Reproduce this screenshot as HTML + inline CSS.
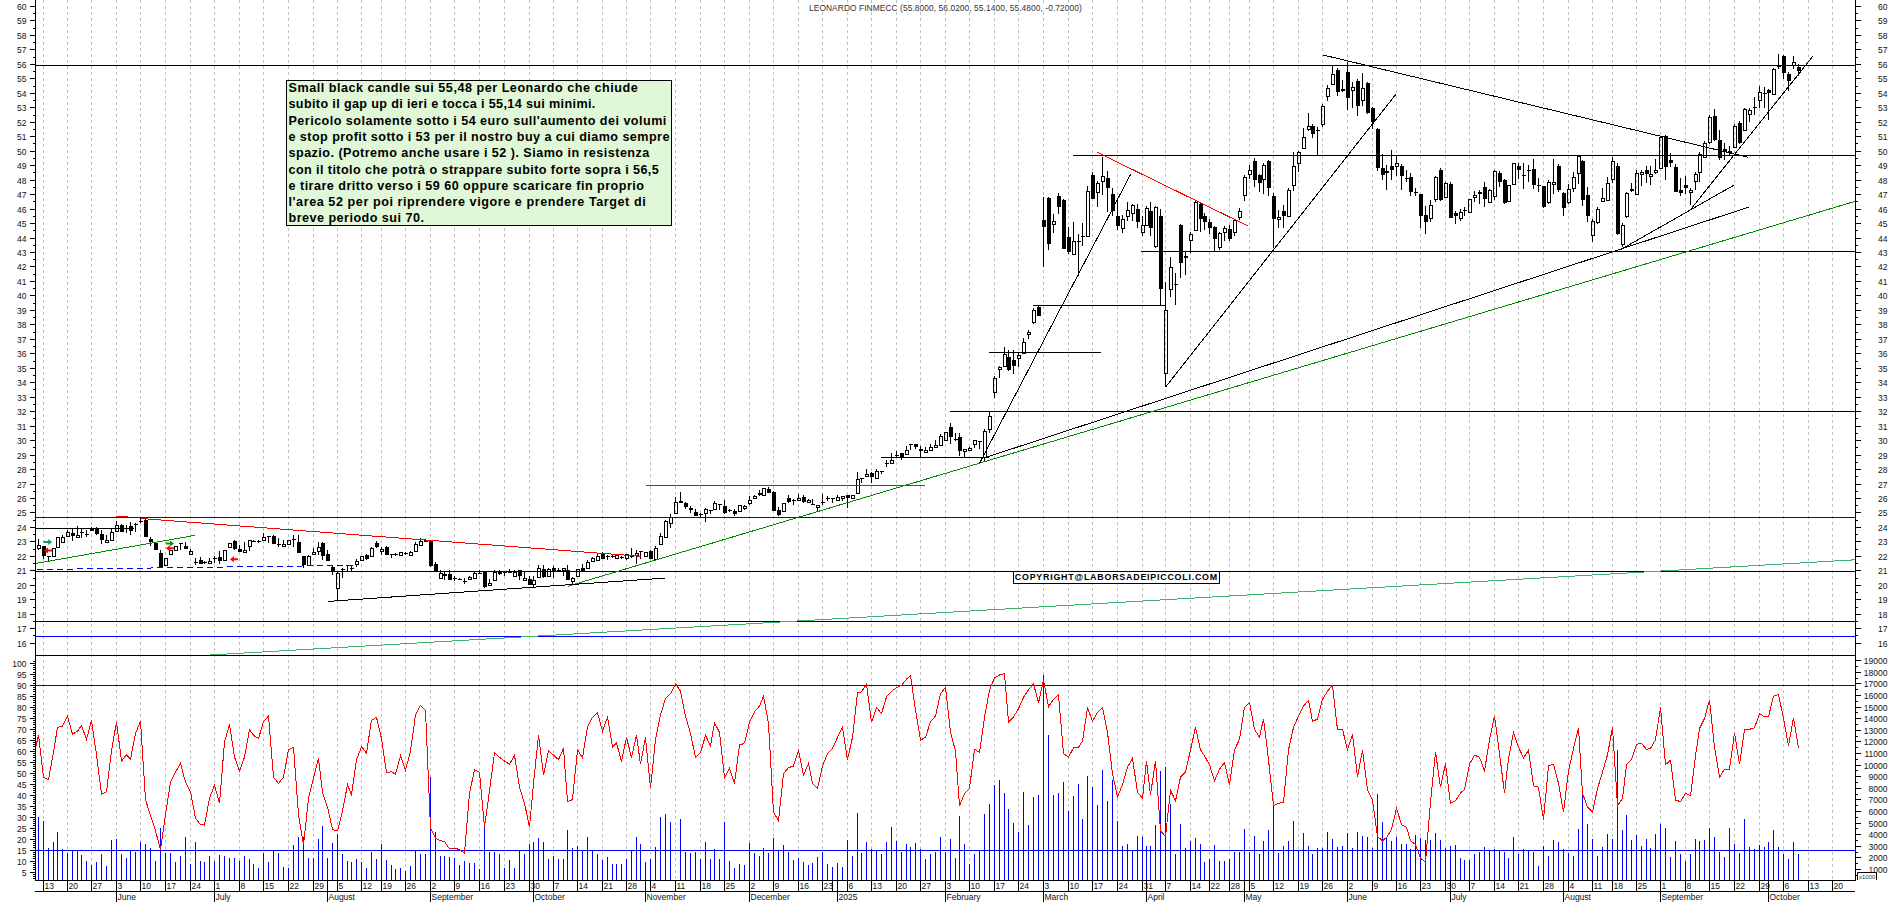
<!DOCTYPE html>
<html><head><meta charset="utf-8"><title>Leonardo Finmeccanica</title>
<style>html,body{margin:0;padding:0;background:#fff;}svg{display:block;}</style></head>
<body><svg width="1890" height="902" viewBox="0 0 1890 902"><path d="M43.5 0V880 M67.5 0V880 M91.5 0V880 M116.5 0V880 M140.5 0V880 M165.5 0V880 M190.5 0V880 M214.5 0V880 M239.5 0V880 M263.5 0V880 M288.5 0V880 M313.5 0V880 M337.5 0V880 M361.5 0V880 M381.5 0V880 M405.5 0V880 M430.5 0V880 M454.5 0V880 M479.5 0V880 M504.5 0V880 M529.5 0V880 M553.5 0V880 M577.5 0V880 M602.5 0V880 M626.5 0V880 M650.5 0V880 M675.5 0V880 M700.5 0V880 M724.5 0V880 M749.5 0V880 M773.5 0V880 M798.5 0V880 M822.5 0V880 M847.5 0V880 M871.5 0V880 M896.5 0V880 M920.5 0V880 M945.5 0V880 M969.5 0V880 M994.5 0V880 M1018.5 0V880 M1043.5 0V880 M1068.5 0V880 M1092.5 0V880 M1117.5 0V880 M1142.5 0V880 M1165.5 0V880 M1190.5 0V880 M1209.5 0V880 M1229.5 0V880 M1249.5 0V880 M1273.5 0V880 M1298.5 0V880 M1322.5 0V880 M1347.5 0V880 M1372.5 0V880 M1396.5 0V880 M1420.5 0V880 M1445.5 0V880 M1469.5 0V880 M1494.5 0V880 M1518.5 0V880 M1543.5 0V880 M1568.5 0V880 M1592.5 0V880 M1612.5 0V880 M1636.5 0V880 M1660.5 0V880 M1685.5 0V880 M1709.5 0V880 M1734.5 0V880 M1759.5 0V880 M1783.5 0V880 M1808.5 0V880 M1832.5 0V880" stroke="#c0c0c0" stroke-width="1" stroke-dasharray="3 3" fill="none"/>
<g shape-rendering="crispEdges">
<rect x="38" y="539" width="1" height="6" fill="#000"/>
<rect x="38" y="549" width="1" height="1" fill="#000"/>
<rect x="37.5" y="545.5" width="3" height="3" fill="none" stroke="#000" stroke-width="1"/>
<rect x="43" y="546" width="1" height="13" fill="#000"/>
<rect x="42" y="546" width="4" height="10" fill="#000"/>
<rect x="48" y="556" width="1" height="5" fill="#000"/>
<rect x="47" y="556" width="4" height="1" fill="#000"/>
<rect x="52.5" y="548.5" width="3" height="8" fill="none" stroke="#000" stroke-width="1"/>
<rect x="56.5" y="537.5" width="3" height="10" fill="none" stroke="#000" stroke-width="1"/>
<rect x="62" y="535" width="1" height="2" fill="#000"/>
<rect x="61.5" y="537.5" width="3" height="5" fill="none" stroke="#000" stroke-width="1"/>
<rect x="67" y="530" width="1" height="2" fill="#000"/>
<rect x="66.5" y="532.5" width="3" height="4" fill="none" stroke="#000" stroke-width="1"/>
<rect x="72" y="529" width="1" height="12" fill="#000"/>
<rect x="71" y="533" width="4" height="3" fill="#000"/>
<rect x="77" y="526" width="1" height="9" fill="#000"/>
<rect x="76.5" y="535.5" width="3" height="2" fill="none" stroke="#000" stroke-width="1"/>
<rect x="81" y="529" width="1" height="9" fill="#000"/>
<rect x="80" y="532" width="4" height="1" fill="#000"/>
<rect x="86" y="530" width="1" height="7" fill="#000"/>
<rect x="85" y="534" width="4" height="1" fill="#000"/>
<rect x="91" y="527" width="1" height="4" fill="#000"/>
<rect x="90" y="528" width="4" height="3" fill="#000"/>
<rect x="96" y="527" width="1" height="8" fill="#000"/>
<rect x="95" y="528" width="4" height="6" fill="#000"/>
<rect x="101" y="530" width="1" height="14" fill="#000"/>
<rect x="100" y="534" width="4" height="6" fill="#000"/>
<rect x="106" y="535" width="1" height="5" fill="#000"/>
<rect x="105.5" y="540.5" width="3" height="2" fill="none" stroke="#000" stroke-width="1"/>
<rect x="111" y="528" width="1" height="4" fill="#000"/>
<rect x="110.5" y="532.5" width="3" height="8" fill="none" stroke="#000" stroke-width="1"/>
<rect x="116" y="521" width="1" height="4" fill="#000"/>
<rect x="115.5" y="525.5" width="3" height="6" fill="none" stroke="#000" stroke-width="1"/>
<rect x="121" y="524" width="1" height="8" fill="#000"/>
<rect x="120" y="525" width="4" height="7" fill="#000"/>
<rect x="126" y="525" width="1" height="8" fill="#000"/>
<rect x="125" y="528" width="4" height="1" fill="#000"/>
<rect x="130" y="522" width="1" height="13" fill="#000"/>
<rect x="129" y="526" width="4" height="5" fill="#000"/>
<rect x="135" y="523" width="1" height="9" fill="#000"/>
<rect x="134" y="524" width="4" height="1" fill="#000"/>
<rect x="140" y="518" width="1" height="5" fill="#000"/>
<rect x="139" y="521" width="4" height="1" fill="#000"/>
<rect x="145" y="519" width="1" height="18" fill="#000"/>
<rect x="144" y="520" width="4" height="17" fill="#000"/>
<rect x="150" y="537" width="1" height="9" fill="#000"/>
<rect x="149" y="539" width="4" height="3" fill="#000"/>
<rect x="155" y="542" width="1" height="8" fill="#000"/>
<rect x="154" y="543" width="4" height="7" fill="#000"/>
<rect x="160" y="550" width="1" height="17" fill="#000"/>
<rect x="159" y="553" width="4" height="14" fill="#000"/>
<rect x="164.5" y="558.5" width="3" height="7" fill="none" stroke="#000" stroke-width="1"/>
<rect x="169.5" y="550.5" width="3" height="4" fill="none" stroke="#000" stroke-width="1"/>
<rect x="174.5" y="546.5" width="3" height="4" fill="none" stroke="#000" stroke-width="1"/>
<rect x="180" y="543" width="1" height="7" fill="#000"/>
<rect x="179" y="543" width="4" height="1" fill="#000"/>
<rect x="185" y="542" width="1" height="7" fill="#000"/>
<rect x="184" y="546" width="4" height="3" fill="#000"/>
<rect x="190" y="549" width="1" height="2" fill="#000"/>
<rect x="189.5" y="551.5" width="3" height="3" fill="none" stroke="#000" stroke-width="1"/>
<rect x="195" y="558" width="1" height="7" fill="#000"/>
<rect x="194" y="562" width="4" height="1" fill="#000"/>
<rect x="200" y="557" width="1" height="7" fill="#000"/>
<rect x="199" y="560" width="4" height="4" fill="#000"/>
<rect x="204" y="561" width="1" height="3" fill="#000"/>
<rect x="203" y="562" width="4" height="1" fill="#000"/>
<rect x="209" y="558" width="1" height="3" fill="#000"/>
<rect x="208.5" y="561.5" width="3" height="2" fill="none" stroke="#000" stroke-width="1"/>
<rect x="214" y="556" width="1" height="7" fill="#000"/>
<rect x="213" y="558" width="4" height="1" fill="#000"/>
<rect x="219" y="551" width="1" height="13" fill="#000"/>
<rect x="218" y="557" width="4" height="4" fill="#000"/>
<rect x="223.5" y="550.5" width="3" height="10" fill="none" stroke="#000" stroke-width="1"/>
<rect x="228.5" y="543.5" width="3" height="4" fill="none" stroke="#000" stroke-width="1"/>
<rect x="234" y="540" width="1" height="10" fill="#000"/>
<rect x="233" y="541" width="4" height="8" fill="#000"/>
<rect x="239" y="545" width="1" height="7" fill="#000"/>
<rect x="238" y="549" width="4" height="3" fill="#000"/>
<rect x="244" y="542" width="1" height="8" fill="#000"/>
<rect x="243.5" y="550.5" width="3" height="2" fill="none" stroke="#000" stroke-width="1"/>
<rect x="249" y="547" width="1" height="4" fill="#000"/>
<rect x="248.5" y="540.5" width="3" height="6" fill="none" stroke="#000" stroke-width="1"/>
<rect x="253" y="540" width="1" height="2" fill="#000"/>
<rect x="252" y="541" width="4" height="1" fill="#000"/>
<rect x="258" y="540" width="1" height="3" fill="#000"/>
<rect x="257" y="541" width="4" height="1" fill="#000"/>
<rect x="263" y="533" width="1" height="4" fill="#000"/>
<rect x="262.5" y="537.5" width="3" height="3" fill="none" stroke="#000" stroke-width="1"/>
<rect x="268" y="536" width="1" height="7" fill="#000"/>
<rect x="267" y="536" width="4" height="1" fill="#000"/>
<rect x="273" y="535" width="1" height="9" fill="#000"/>
<rect x="272" y="536" width="4" height="8" fill="#000"/>
<rect x="278" y="538" width="1" height="9" fill="#000"/>
<rect x="277" y="544" width="4" height="1" fill="#000"/>
<rect x="283" y="540" width="1" height="4" fill="#000"/>
<rect x="282.5" y="544.5" width="3" height="2" fill="none" stroke="#000" stroke-width="1"/>
<rect x="287.5" y="540.5" width="3" height="4" fill="none" stroke="#000" stroke-width="1"/>
<rect x="293" y="535" width="1" height="12" fill="#000"/>
<rect x="292" y="539" width="4" height="1" fill="#000"/>
<rect x="298" y="535" width="1" height="18" fill="#000"/>
<rect x="297" y="542" width="4" height="11" fill="#000"/>
<rect x="303" y="556" width="1" height="12" fill="#000"/>
<rect x="302" y="556" width="4" height="9" fill="#000"/>
<rect x="308" y="555" width="1" height="1" fill="#000"/>
<rect x="307.5" y="556.5" width="3" height="9" fill="none" stroke="#000" stroke-width="1"/>
<rect x="313" y="548" width="1" height="4" fill="#000"/>
<rect x="312.5" y="552.5" width="3" height="2" fill="none" stroke="#000" stroke-width="1"/>
<rect x="318" y="542" width="1" height="5" fill="#000"/>
<rect x="318" y="552" width="1" height="3" fill="#000"/>
<rect x="317.5" y="547.5" width="3" height="4" fill="none" stroke="#000" stroke-width="1"/>
<rect x="322" y="542" width="1" height="18" fill="#000"/>
<rect x="321" y="543" width="4" height="13" fill="#000"/>
<rect x="327" y="550" width="1" height="11" fill="#000"/>
<rect x="326" y="554" width="4" height="7" fill="#000"/>
<rect x="332" y="566" width="1" height="9" fill="#000"/>
<rect x="331" y="567" width="4" height="5" fill="#000"/>
<rect x="337" y="572" width="1" height="1" fill="#000"/>
<rect x="337" y="589" width="1" height="11" fill="#000"/>
<rect x="336.5" y="573.5" width="3" height="15" fill="none" stroke="#000" stroke-width="1"/>
<rect x="342" y="568" width="1" height="10" fill="#000"/>
<rect x="341" y="569" width="4" height="1" fill="#000"/>
<rect x="347" y="565" width="1" height="6" fill="#000"/>
<rect x="346" y="565" width="4" height="1" fill="#000"/>
<rect x="351" y="566" width="1" height="6" fill="#000"/>
<rect x="350" y="568" width="4" height="1" fill="#000"/>
<rect x="356" y="559" width="1" height="2" fill="#000"/>
<rect x="356" y="565" width="1" height="2" fill="#000"/>
<rect x="355.5" y="561.5" width="3" height="3" fill="none" stroke="#000" stroke-width="1"/>
<rect x="360.5" y="556.5" width="3" height="4" fill="none" stroke="#000" stroke-width="1"/>
<rect x="366" y="554" width="1" height="6" fill="#000"/>
<rect x="365" y="555" width="4" height="4" fill="#000"/>
<rect x="371" y="547" width="1" height="1" fill="#000"/>
<rect x="370.5" y="548.5" width="3" height="8" fill="none" stroke="#000" stroke-width="1"/>
<rect x="376" y="541" width="1" height="7" fill="#000"/>
<rect x="375" y="543" width="4" height="4" fill="#000"/>
<rect x="381" y="547" width="1" height="2" fill="#000"/>
<rect x="381" y="552" width="1" height="3" fill="#000"/>
<rect x="380.5" y="549.5" width="3" height="2" fill="none" stroke="#000" stroke-width="1"/>
<rect x="386" y="546" width="1" height="9" fill="#000"/>
<rect x="385" y="547" width="4" height="8" fill="#000"/>
<rect x="391" y="554" width="1" height="4" fill="#000"/>
<rect x="390" y="554" width="4" height="1" fill="#000"/>
<rect x="395" y="553" width="1" height="3" fill="#000"/>
<rect x="394" y="554" width="4" height="1" fill="#000"/>
<rect x="399.5" y="552.5" width="3" height="3" fill="none" stroke="#000" stroke-width="1"/>
<rect x="405" y="552" width="1" height="3" fill="#000"/>
<rect x="404" y="553" width="4" height="1" fill="#000"/>
<rect x="410" y="551" width="1" height="1" fill="#000"/>
<rect x="409.5" y="552.5" width="3" height="3" fill="none" stroke="#000" stroke-width="1"/>
<rect x="415" y="542" width="1" height="2" fill="#000"/>
<rect x="414.5" y="544.5" width="3" height="7" fill="none" stroke="#000" stroke-width="1"/>
<rect x="420" y="538" width="1" height="3" fill="#000"/>
<rect x="419.5" y="541.5" width="3" height="4" fill="none" stroke="#000" stroke-width="1"/>
<rect x="425" y="539" width="1" height="3" fill="#000"/>
<rect x="424" y="540" width="4" height="2" fill="#000"/>
<rect x="430" y="540" width="1" height="27" fill="#000"/>
<rect x="429" y="541" width="4" height="25" fill="#000"/>
<rect x="435" y="562" width="1" height="9" fill="#000"/>
<rect x="434" y="564" width="4" height="7" fill="#000"/>
<rect x="440" y="570" width="1" height="3" fill="#000"/>
<rect x="439.5" y="573.5" width="3" height="5" fill="none" stroke="#000" stroke-width="1"/>
<rect x="444" y="572" width="1" height="8" fill="#000"/>
<rect x="443" y="574" width="4" height="2" fill="#000"/>
<rect x="449" y="570" width="1" height="10" fill="#000"/>
<rect x="448" y="574" width="4" height="6" fill="#000"/>
<rect x="454" y="576" width="1" height="5" fill="#000"/>
<rect x="453" y="578" width="4" height="1" fill="#000"/>
<rect x="459" y="578" width="1" height="2" fill="#000"/>
<rect x="458" y="579" width="4" height="1" fill="#000"/>
<rect x="464" y="578" width="1" height="6" fill="#000"/>
<rect x="463" y="581" width="4" height="1" fill="#000"/>
<rect x="469" y="576" width="1" height="1" fill="#000"/>
<rect x="468.5" y="577.5" width="3" height="2" fill="none" stroke="#000" stroke-width="1"/>
<rect x="474" y="572" width="1" height="1" fill="#000"/>
<rect x="473.5" y="573.5" width="3" height="5" fill="none" stroke="#000" stroke-width="1"/>
<rect x="479" y="570" width="1" height="4" fill="#000"/>
<rect x="478" y="573" width="4" height="1" fill="#000"/>
<rect x="484" y="571" width="1" height="17" fill="#000"/>
<rect x="483" y="572" width="4" height="15" fill="#000"/>
<rect x="489" y="579" width="1" height="4" fill="#000"/>
<rect x="488.5" y="583.5" width="3" height="2" fill="none" stroke="#000" stroke-width="1"/>
<rect x="494" y="570" width="1" height="2" fill="#000"/>
<rect x="493.5" y="572.5" width="3" height="8" fill="none" stroke="#000" stroke-width="1"/>
<rect x="499" y="570" width="1" height="5" fill="#000"/>
<rect x="498" y="572" width="4" height="2" fill="#000"/>
<rect x="504" y="572" width="1" height="4" fill="#000"/>
<rect x="503" y="572" width="4" height="1" fill="#000"/>
<rect x="509" y="569" width="1" height="4" fill="#000"/>
<rect x="508" y="571" width="4" height="2" fill="#000"/>
<rect x="514" y="570" width="1" height="2" fill="#000"/>
<rect x="513.5" y="572.5" width="3" height="4" fill="none" stroke="#000" stroke-width="1"/>
<rect x="519" y="570" width="1" height="10" fill="#000"/>
<rect x="518" y="570" width="4" height="6" fill="#000"/>
<rect x="524" y="572" width="1" height="6" fill="#000"/>
<rect x="523.5" y="578.5" width="3" height="2" fill="none" stroke="#000" stroke-width="1"/>
<rect x="529" y="576" width="1" height="9" fill="#000"/>
<rect x="528" y="579" width="4" height="6" fill="#000"/>
<rect x="533" y="576" width="1" height="4" fill="#000"/>
<rect x="533" y="585" width="1" height="2" fill="#000"/>
<rect x="532.5" y="580.5" width="3" height="4" fill="none" stroke="#000" stroke-width="1"/>
<rect x="538" y="565" width="1" height="3" fill="#000"/>
<rect x="537.5" y="568.5" width="3" height="9" fill="none" stroke="#000" stroke-width="1"/>
<rect x="543" y="565" width="1" height="13" fill="#000"/>
<rect x="542" y="569" width="4" height="8" fill="#000"/>
<rect x="548" y="568" width="1" height="1" fill="#000"/>
<rect x="547.5" y="569.5" width="3" height="7" fill="none" stroke="#000" stroke-width="1"/>
<rect x="553" y="566" width="1" height="12" fill="#000"/>
<rect x="552" y="568" width="4" height="3" fill="#000"/>
<rect x="558" y="568" width="1" height="4" fill="#000"/>
<rect x="557" y="570" width="4" height="1" fill="#000"/>
<rect x="563" y="571" width="1" height="5" fill="#000"/>
<rect x="562.5" y="568.5" width="3" height="2" fill="none" stroke="#000" stroke-width="1"/>
<rect x="567" y="565" width="1" height="15" fill="#000"/>
<rect x="566" y="570" width="4" height="10" fill="#000"/>
<rect x="572" y="577" width="1" height="1" fill="#000"/>
<rect x="572" y="582" width="1" height="2" fill="#000"/>
<rect x="571.5" y="578.5" width="3" height="3" fill="none" stroke="#000" stroke-width="1"/>
<rect x="576.5" y="569.5" width="3" height="7" fill="none" stroke="#000" stroke-width="1"/>
<rect x="582" y="564" width="1" height="7" fill="#000"/>
<rect x="581" y="568" width="4" height="3" fill="#000"/>
<rect x="587" y="560" width="1" height="2" fill="#000"/>
<rect x="586.5" y="562.5" width="3" height="6" fill="none" stroke="#000" stroke-width="1"/>
<rect x="592" y="557" width="1" height="1" fill="#000"/>
<rect x="591.5" y="558.5" width="3" height="3" fill="none" stroke="#000" stroke-width="1"/>
<rect x="597" y="554" width="1" height="2" fill="#000"/>
<rect x="596.5" y="556.5" width="3" height="4" fill="none" stroke="#000" stroke-width="1"/>
<rect x="602" y="552" width="1" height="7" fill="#000"/>
<rect x="601" y="554" width="4" height="5" fill="#000"/>
<rect x="607" y="555" width="1" height="5" fill="#000"/>
<rect x="606" y="556" width="4" height="1" fill="#000"/>
<rect x="612" y="555" width="1" height="3" fill="#000"/>
<rect x="611" y="556" width="4" height="1" fill="#000"/>
<rect x="616" y="554" width="1" height="1" fill="#000"/>
<rect x="615.5" y="555.5" width="3" height="3" fill="none" stroke="#000" stroke-width="1"/>
<rect x="621" y="556" width="1" height="3" fill="#000"/>
<rect x="620" y="557" width="4" height="1" fill="#000"/>
<rect x="626" y="559" width="1" height="1" fill="#000"/>
<rect x="625.5" y="554.5" width="3" height="4" fill="none" stroke="#000" stroke-width="1"/>
<rect x="631" y="548" width="1" height="10" fill="#000"/>
<rect x="630" y="556" width="4" height="1" fill="#000"/>
<rect x="636" y="550" width="1" height="3" fill="#000"/>
<rect x="636" y="556" width="1" height="8" fill="#000"/>
<rect x="635.5" y="553.5" width="3" height="2" fill="none" stroke="#000" stroke-width="1"/>
<rect x="640" y="551" width="1" height="8" fill="#000"/>
<rect x="639" y="551" width="4" height="1" fill="#000"/>
<rect x="644.5" y="552.5" width="3" height="4" fill="none" stroke="#000" stroke-width="1"/>
<rect x="650" y="550" width="1" height="9" fill="#000"/>
<rect x="649" y="551" width="4" height="8" fill="#000"/>
<rect x="655" y="546" width="1" height="2" fill="#000"/>
<rect x="654.5" y="548.5" width="3" height="11" fill="none" stroke="#000" stroke-width="1"/>
<rect x="660" y="533" width="1" height="3" fill="#000"/>
<rect x="659.5" y="536.5" width="3" height="8" fill="none" stroke="#000" stroke-width="1"/>
<rect x="665" y="520" width="1" height="1" fill="#000"/>
<rect x="664.5" y="521.5" width="3" height="16" fill="none" stroke="#000" stroke-width="1"/>
<rect x="670" y="514" width="1" height="3" fill="#000"/>
<rect x="670" y="524" width="1" height="4" fill="#000"/>
<rect x="669.5" y="517.5" width="3" height="6" fill="none" stroke="#000" stroke-width="1"/>
<rect x="675" y="497" width="1" height="5" fill="#000"/>
<rect x="674.5" y="502.5" width="3" height="11" fill="none" stroke="#000" stroke-width="1"/>
<rect x="680" y="492" width="1" height="11" fill="#000"/>
<rect x="679" y="501" width="4" height="2" fill="#000"/>
<rect x="685" y="502" width="1" height="7" fill="#000"/>
<rect x="684" y="503" width="4" height="4" fill="#000"/>
<rect x="690" y="506" width="1" height="7" fill="#000"/>
<rect x="689" y="508" width="4" height="2" fill="#000"/>
<rect x="695" y="509" width="1" height="7" fill="#000"/>
<rect x="694" y="512" width="4" height="4" fill="#000"/>
<rect x="700" y="513" width="1" height="5" fill="#000"/>
<rect x="699" y="514" width="4" height="1" fill="#000"/>
<rect x="705" y="508" width="1" height="1" fill="#000"/>
<rect x="705" y="514" width="1" height="8" fill="#000"/>
<rect x="704.5" y="509.5" width="3" height="4" fill="none" stroke="#000" stroke-width="1"/>
<rect x="710" y="510" width="1" height="4" fill="#000"/>
<rect x="709" y="510" width="4" height="1" fill="#000"/>
<rect x="714" y="501" width="1" height="2" fill="#000"/>
<rect x="713.5" y="503.5" width="3" height="6" fill="none" stroke="#000" stroke-width="1"/>
<rect x="719" y="504" width="1" height="6" fill="#000"/>
<rect x="718" y="504" width="4" height="1" fill="#000"/>
<rect x="724" y="500" width="1" height="14" fill="#000"/>
<rect x="723" y="506" width="4" height="7" fill="#000"/>
<rect x="729" y="509" width="1" height="3" fill="#000"/>
<rect x="728" y="510" width="4" height="1" fill="#000"/>
<rect x="734" y="509" width="1" height="7" fill="#000"/>
<rect x="733" y="511" width="4" height="3" fill="#000"/>
<rect x="738.5" y="505.5" width="3" height="6" fill="none" stroke="#000" stroke-width="1"/>
<rect x="744" y="505" width="1" height="1" fill="#000"/>
<rect x="744" y="509" width="1" height="1" fill="#000"/>
<rect x="743.5" y="506.5" width="3" height="2" fill="none" stroke="#000" stroke-width="1"/>
<rect x="749" y="496" width="1" height="4" fill="#000"/>
<rect x="749" y="504" width="1" height="1" fill="#000"/>
<rect x="748.5" y="500.5" width="3" height="3" fill="none" stroke="#000" stroke-width="1"/>
<rect x="754" y="495" width="1" height="1" fill="#000"/>
<rect x="753.5" y="496.5" width="3" height="2" fill="none" stroke="#000" stroke-width="1"/>
<rect x="759" y="490" width="1" height="6" fill="#000"/>
<rect x="758" y="493" width="4" height="2" fill="#000"/>
<rect x="762.5" y="488.5" width="3" height="7" fill="none" stroke="#000" stroke-width="1"/>
<rect x="768" y="487" width="1" height="6" fill="#000"/>
<rect x="767" y="489" width="4" height="4" fill="#000"/>
<rect x="773" y="491" width="1" height="20" fill="#000"/>
<rect x="772" y="492" width="4" height="19" fill="#000"/>
<rect x="778" y="507" width="1" height="9" fill="#000"/>
<rect x="777" y="510" width="4" height="5" fill="#000"/>
<rect x="782.5" y="503.5" width="3" height="8" fill="none" stroke="#000" stroke-width="1"/>
<rect x="788" y="495" width="1" height="8" fill="#000"/>
<rect x="787" y="498" width="4" height="4" fill="#000"/>
<rect x="793" y="499" width="1" height="6" fill="#000"/>
<rect x="792" y="500" width="4" height="1" fill="#000"/>
<rect x="798" y="494" width="1" height="4" fill="#000"/>
<rect x="797.5" y="498.5" width="3" height="2" fill="none" stroke="#000" stroke-width="1"/>
<rect x="803" y="495" width="1" height="8" fill="#000"/>
<rect x="802" y="497" width="4" height="5" fill="#000"/>
<rect x="808" y="499" width="1" height="1" fill="#000"/>
<rect x="807.5" y="500.5" width="3" height="2" fill="none" stroke="#000" stroke-width="1"/>
<rect x="812" y="499" width="1" height="6" fill="#000"/>
<rect x="811" y="504" width="4" height="1" fill="#000"/>
<rect x="817" y="508" width="1" height="4" fill="#000"/>
<rect x="816.5" y="505.5" width="3" height="2" fill="none" stroke="#000" stroke-width="1"/>
<rect x="822" y="494" width="1" height="11" fill="#000"/>
<rect x="821" y="502" width="4" height="1" fill="#000"/>
<rect x="827" y="496" width="1" height="5" fill="#000"/>
<rect x="826" y="498" width="4" height="1" fill="#000"/>
<rect x="832" y="498" width="1" height="5" fill="#000"/>
<rect x="831" y="498" width="4" height="1" fill="#000"/>
<rect x="837" y="495" width="1" height="2" fill="#000"/>
<rect x="836.5" y="497.5" width="3" height="3" fill="none" stroke="#000" stroke-width="1"/>
<rect x="842" y="499" width="1" height="2" fill="#000"/>
<rect x="841.5" y="496.5" width="3" height="2" fill="none" stroke="#000" stroke-width="1"/>
<rect x="847" y="495" width="1" height="13" fill="#000"/>
<rect x="846" y="495" width="4" height="3" fill="#000"/>
<rect x="851.5" y="495.5" width="3" height="3" fill="none" stroke="#000" stroke-width="1"/>
<rect x="857" y="472" width="1" height="7" fill="#000"/>
<rect x="856.5" y="479.5" width="3" height="14" fill="none" stroke="#000" stroke-width="1"/>
<rect x="861" y="478" width="1" height="5" fill="#000"/>
<rect x="860" y="478" width="4" height="1" fill="#000"/>
<rect x="866" y="469" width="1" height="5" fill="#000"/>
<rect x="865.5" y="474.5" width="3" height="2" fill="none" stroke="#000" stroke-width="1"/>
<rect x="871" y="472" width="1" height="11" fill="#000"/>
<rect x="870" y="473" width="4" height="4" fill="#000"/>
<rect x="876" y="469" width="1" height="2" fill="#000"/>
<rect x="875.5" y="471.5" width="3" height="7" fill="none" stroke="#000" stroke-width="1"/>
<rect x="881" y="471" width="1" height="3" fill="#000"/>
<rect x="880" y="471" width="4" height="1" fill="#000"/>
<rect x="886" y="460" width="1" height="7" fill="#000"/>
<rect x="885" y="463" width="4" height="1" fill="#000"/>
<rect x="891" y="453" width="1" height="7" fill="#000"/>
<rect x="890.5" y="460.5" width="3" height="3" fill="none" stroke="#000" stroke-width="1"/>
<rect x="896" y="451" width="1" height="7" fill="#000"/>
<rect x="895" y="455" width="4" height="1" fill="#000"/>
<rect x="901" y="453" width="1" height="7" fill="#000"/>
<rect x="900" y="453" width="4" height="4" fill="#000"/>
<rect x="906" y="446" width="1" height="4" fill="#000"/>
<rect x="905.5" y="450.5" width="3" height="4" fill="none" stroke="#000" stroke-width="1"/>
<rect x="910" y="444" width="1" height="6" fill="#000"/>
<rect x="909" y="444" width="4" height="1" fill="#000"/>
<rect x="915" y="444" width="1" height="5" fill="#000"/>
<rect x="914" y="444" width="4" height="3" fill="#000"/>
<rect x="920" y="446" width="1" height="11" fill="#000"/>
<rect x="919" y="449" width="4" height="2" fill="#000"/>
<rect x="925" y="447" width="1" height="3" fill="#000"/>
<rect x="924.5" y="450.5" width="3" height="2" fill="none" stroke="#000" stroke-width="1"/>
<rect x="930" y="444" width="1" height="3" fill="#000"/>
<rect x="929.5" y="447.5" width="3" height="3" fill="none" stroke="#000" stroke-width="1"/>
<rect x="935" y="440" width="1" height="5" fill="#000"/>
<rect x="934.5" y="445.5" width="3" height="2" fill="none" stroke="#000" stroke-width="1"/>
<rect x="940" y="434" width="1" height="2" fill="#000"/>
<rect x="939.5" y="436.5" width="3" height="9" fill="none" stroke="#000" stroke-width="1"/>
<rect x="944.5" y="432.5" width="3" height="8" fill="none" stroke="#000" stroke-width="1"/>
<rect x="950" y="423" width="1" height="21" fill="#000"/>
<rect x="949" y="427" width="4" height="10" fill="#000"/>
<rect x="955" y="433" width="1" height="8" fill="#000"/>
<rect x="954" y="439" width="4" height="1" fill="#000"/>
<rect x="959" y="433" width="1" height="23" fill="#000"/>
<rect x="958" y="437" width="4" height="14" fill="#000"/>
<rect x="964" y="452" width="1" height="6" fill="#000"/>
<rect x="963.5" y="449.5" width="3" height="2" fill="none" stroke="#000" stroke-width="1"/>
<rect x="969" y="447" width="1" height="1" fill="#000"/>
<rect x="968.5" y="448.5" width="3" height="2" fill="none" stroke="#000" stroke-width="1"/>
<rect x="974" y="445" width="1" height="3" fill="#000"/>
<rect x="973.5" y="440.5" width="3" height="4" fill="none" stroke="#000" stroke-width="1"/>
<rect x="979" y="441" width="1" height="8" fill="#000"/>
<rect x="978" y="441" width="4" height="1" fill="#000"/>
<rect x="984" y="429" width="1" height="2" fill="#000"/>
<rect x="984" y="458" width="1" height="3" fill="#000"/>
<rect x="983.5" y="431.5" width="3" height="26" fill="none" stroke="#000" stroke-width="1"/>
<rect x="989" y="412" width="1" height="4" fill="#000"/>
<rect x="989" y="430" width="1" height="3" fill="#000"/>
<rect x="988.5" y="416.5" width="3" height="13" fill="none" stroke="#000" stroke-width="1"/>
<rect x="994" y="376" width="1" height="2" fill="#000"/>
<rect x="994" y="393" width="1" height="5" fill="#000"/>
<rect x="993.5" y="378.5" width="3" height="14" fill="none" stroke="#000" stroke-width="1"/>
<rect x="999" y="366" width="1" height="1" fill="#000"/>
<rect x="999" y="370" width="1" height="8" fill="#000"/>
<rect x="998.5" y="367.5" width="3" height="2" fill="none" stroke="#000" stroke-width="1"/>
<rect x="1004" y="347" width="1" height="7" fill="#000"/>
<rect x="1003.5" y="354.5" width="3" height="12" fill="none" stroke="#000" stroke-width="1"/>
<rect x="1008" y="350" width="1" height="21" fill="#000"/>
<rect x="1007" y="357" width="4" height="13" fill="#000"/>
<rect x="1013" y="350" width="1" height="24" fill="#000"/>
<rect x="1012" y="360" width="4" height="6" fill="#000"/>
<rect x="1018" y="353" width="1" height="2" fill="#000"/>
<rect x="1018" y="359" width="1" height="8" fill="#000"/>
<rect x="1017.5" y="355.5" width="3" height="3" fill="none" stroke="#000" stroke-width="1"/>
<rect x="1023" y="338" width="1" height="4" fill="#000"/>
<rect x="1022.5" y="342.5" width="3" height="11" fill="none" stroke="#000" stroke-width="1"/>
<rect x="1028" y="330" width="1" height="2" fill="#000"/>
<rect x="1028" y="335" width="1" height="4" fill="#000"/>
<rect x="1027.5" y="332.5" width="3" height="2" fill="none" stroke="#000" stroke-width="1"/>
<rect x="1033" y="308" width="1" height="2" fill="#000"/>
<rect x="1033" y="323" width="1" height="1" fill="#000"/>
<rect x="1032.5" y="310.5" width="3" height="12" fill="none" stroke="#000" stroke-width="1"/>
<rect x="1038" y="305" width="1" height="11" fill="#000"/>
<rect x="1037" y="307" width="4" height="9" fill="#000"/>
<rect x="1043" y="197" width="1" height="70" fill="#000"/>
<rect x="1042" y="220" width="4" height="7" fill="#000"/>
<rect x="1048" y="197" width="1" height="53" fill="#000"/>
<rect x="1047" y="198" width="4" height="46" fill="#000"/>
<rect x="1053" y="214" width="1" height="7" fill="#000"/>
<rect x="1053" y="225" width="1" height="8" fill="#000"/>
<rect x="1052.5" y="221.5" width="3" height="3" fill="none" stroke="#000" stroke-width="1"/>
<rect x="1058" y="193" width="1" height="21" fill="#000"/>
<rect x="1057" y="196" width="4" height="11" fill="#000"/>
<rect x="1063" y="199" width="1" height="50" fill="#000"/>
<rect x="1062" y="200" width="4" height="49" fill="#000"/>
<rect x="1068" y="227" width="1" height="27" fill="#000"/>
<rect x="1067" y="237" width="4" height="15" fill="#000"/>
<rect x="1073" y="222" width="1" height="19" fill="#000"/>
<rect x="1072.5" y="241.5" width="3" height="13" fill="none" stroke="#000" stroke-width="1"/>
<rect x="1078" y="234" width="1" height="42" fill="#000"/>
<rect x="1077" y="241" width="4" height="1" fill="#000"/>
<rect x="1082" y="223" width="1" height="23" fill="#000"/>
<rect x="1081" y="236" width="4" height="1" fill="#000"/>
<rect x="1087" y="186" width="1" height="5" fill="#000"/>
<rect x="1086.5" y="191.5" width="3" height="45" fill="none" stroke="#000" stroke-width="1"/>
<rect x="1092" y="172" width="1" height="27" fill="#000"/>
<rect x="1091" y="175" width="4" height="24" fill="#000"/>
<rect x="1097" y="181" width="1" height="2" fill="#000"/>
<rect x="1097" y="193" width="1" height="14" fill="#000"/>
<rect x="1096.5" y="183.5" width="3" height="9" fill="none" stroke="#000" stroke-width="1"/>
<rect x="1102" y="157" width="1" height="19" fill="#000"/>
<rect x="1102" y="182" width="1" height="13" fill="#000"/>
<rect x="1101.5" y="176.5" width="3" height="5" fill="none" stroke="#000" stroke-width="1"/>
<rect x="1107" y="171" width="1" height="41" fill="#000"/>
<rect x="1106" y="178" width="4" height="10" fill="#000"/>
<rect x="1112" y="188" width="1" height="28" fill="#000"/>
<rect x="1111" y="194" width="4" height="17" fill="#000"/>
<rect x="1117" y="200" width="1" height="30" fill="#000"/>
<rect x="1116" y="216" width="4" height="10" fill="#000"/>
<rect x="1122" y="215" width="1" height="4" fill="#000"/>
<rect x="1122" y="229" width="1" height="4" fill="#000"/>
<rect x="1121.5" y="219.5" width="3" height="9" fill="none" stroke="#000" stroke-width="1"/>
<rect x="1127" y="202" width="1" height="8" fill="#000"/>
<rect x="1127" y="217" width="1" height="4" fill="#000"/>
<rect x="1126.5" y="210.5" width="3" height="6" fill="none" stroke="#000" stroke-width="1"/>
<rect x="1132" y="204" width="1" height="1" fill="#000"/>
<rect x="1132" y="214" width="1" height="7" fill="#000"/>
<rect x="1131.5" y="205.5" width="3" height="8" fill="none" stroke="#000" stroke-width="1"/>
<rect x="1137" y="204" width="1" height="24" fill="#000"/>
<rect x="1136" y="209" width="4" height="13" fill="#000"/>
<rect x="1142" y="216" width="1" height="9" fill="#000"/>
<rect x="1142" y="233" width="1" height="3" fill="#000"/>
<rect x="1141.5" y="225.5" width="3" height="7" fill="none" stroke="#000" stroke-width="1"/>
<rect x="1146" y="206" width="1" height="2" fill="#000"/>
<rect x="1145.5" y="208.5" width="3" height="17" fill="none" stroke="#000" stroke-width="1"/>
<rect x="1150" y="202" width="1" height="34" fill="#000"/>
<rect x="1149" y="211" width="4" height="17" fill="#000"/>
<rect x="1155" y="206" width="1" height="1" fill="#000"/>
<rect x="1155" y="247" width="1" height="1" fill="#000"/>
<rect x="1154.5" y="207.5" width="3" height="39" fill="none" stroke="#000" stroke-width="1"/>
<rect x="1160" y="209" width="1" height="97" fill="#000"/>
<rect x="1159" y="216" width="4" height="73" fill="#000"/>
<rect x="1165" y="282" width="1" height="28" fill="#000"/>
<rect x="1165" y="374" width="1" height="13" fill="#000"/>
<rect x="1164.5" y="310.5" width="3" height="63" fill="none" stroke="#000" stroke-width="1"/>
<rect x="1170" y="257" width="1" height="10" fill="#000"/>
<rect x="1170" y="290" width="1" height="7" fill="#000"/>
<rect x="1169.5" y="267.5" width="3" height="22" fill="none" stroke="#000" stroke-width="1"/>
<rect x="1175" y="273" width="1" height="32" fill="#000"/>
<rect x="1174" y="284" width="4" height="1" fill="#000"/>
<rect x="1180" y="224" width="1" height="54" fill="#000"/>
<rect x="1179" y="225" width="4" height="38" fill="#000"/>
<rect x="1185" y="252" width="1" height="23" fill="#000"/>
<rect x="1184" y="256" width="4" height="2" fill="#000"/>
<rect x="1190" y="232" width="1" height="2" fill="#000"/>
<rect x="1190" y="241" width="1" height="12" fill="#000"/>
<rect x="1189.5" y="234.5" width="3" height="6" fill="none" stroke="#000" stroke-width="1"/>
<rect x="1195" y="200" width="1" height="2" fill="#000"/>
<rect x="1194.5" y="202.5" width="3" height="28" fill="none" stroke="#000" stroke-width="1"/>
<rect x="1200" y="203" width="1" height="29" fill="#000"/>
<rect x="1199" y="204" width="4" height="15" fill="#000"/>
<rect x="1204" y="213" width="1" height="17" fill="#000"/>
<rect x="1203" y="216" width="4" height="6" fill="#000"/>
<rect x="1209" y="219" width="1" height="15" fill="#000"/>
<rect x="1208" y="222" width="4" height="6" fill="#000"/>
<rect x="1214" y="226" width="1" height="26" fill="#000"/>
<rect x="1213" y="227" width="4" height="12" fill="#000"/>
<rect x="1219" y="232" width="1" height="1" fill="#000"/>
<rect x="1219" y="248" width="1" height="2" fill="#000"/>
<rect x="1218.5" y="233.5" width="3" height="14" fill="none" stroke="#000" stroke-width="1"/>
<rect x="1224" y="226" width="1" height="2" fill="#000"/>
<rect x="1224" y="233" width="1" height="8" fill="#000"/>
<rect x="1223.5" y="228.5" width="3" height="4" fill="none" stroke="#000" stroke-width="1"/>
<rect x="1229" y="225" width="1" height="16" fill="#000"/>
<rect x="1228" y="229" width="4" height="10" fill="#000"/>
<rect x="1234" y="219" width="1" height="1" fill="#000"/>
<rect x="1234" y="233" width="1" height="3" fill="#000"/>
<rect x="1233.5" y="220.5" width="3" height="12" fill="none" stroke="#000" stroke-width="1"/>
<rect x="1239" y="208" width="1" height="3" fill="#000"/>
<rect x="1239" y="218" width="1" height="2" fill="#000"/>
<rect x="1238.5" y="211.5" width="3" height="6" fill="none" stroke="#000" stroke-width="1"/>
<rect x="1244" y="175" width="1" height="2" fill="#000"/>
<rect x="1244" y="196" width="1" height="5" fill="#000"/>
<rect x="1243.5" y="177.5" width="3" height="18" fill="none" stroke="#000" stroke-width="1"/>
<rect x="1249" y="165" width="1" height="5" fill="#000"/>
<rect x="1249" y="175" width="1" height="4" fill="#000"/>
<rect x="1248.5" y="170.5" width="3" height="4" fill="none" stroke="#000" stroke-width="1"/>
<rect x="1254" y="158" width="1" height="29" fill="#000"/>
<rect x="1253" y="161" width="4" height="19" fill="#000"/>
<rect x="1259" y="174" width="1" height="18" fill="#000"/>
<rect x="1258" y="175" width="4" height="8" fill="#000"/>
<rect x="1263" y="163" width="1" height="2" fill="#000"/>
<rect x="1263" y="180" width="1" height="14" fill="#000"/>
<rect x="1262.5" y="165.5" width="3" height="14" fill="none" stroke="#000" stroke-width="1"/>
<rect x="1268" y="160" width="1" height="36" fill="#000"/>
<rect x="1267" y="161" width="4" height="27" fill="#000"/>
<rect x="1273" y="193" width="1" height="55" fill="#000"/>
<rect x="1272" y="196" width="4" height="23" fill="#000"/>
<rect x="1278" y="210" width="1" height="7" fill="#000"/>
<rect x="1278" y="220" width="1" height="8" fill="#000"/>
<rect x="1277.5" y="217.5" width="3" height="2" fill="none" stroke="#000" stroke-width="1"/>
<rect x="1283" y="205" width="1" height="23" fill="#000"/>
<rect x="1282" y="211" width="4" height="5" fill="#000"/>
<rect x="1288" y="188" width="1" height="2" fill="#000"/>
<rect x="1287.5" y="190.5" width="3" height="26" fill="none" stroke="#000" stroke-width="1"/>
<rect x="1293" y="152" width="1" height="14" fill="#000"/>
<rect x="1293" y="186" width="1" height="5" fill="#000"/>
<rect x="1292.5" y="166.5" width="3" height="19" fill="none" stroke="#000" stroke-width="1"/>
<rect x="1298" y="151" width="1" height="1" fill="#000"/>
<rect x="1298" y="164" width="1" height="8" fill="#000"/>
<rect x="1297.5" y="152.5" width="3" height="11" fill="none" stroke="#000" stroke-width="1"/>
<rect x="1303" y="128" width="1" height="9" fill="#000"/>
<rect x="1302.5" y="137.5" width="3" height="11" fill="none" stroke="#000" stroke-width="1"/>
<rect x="1308" y="113" width="1" height="13" fill="#000"/>
<rect x="1308" y="130" width="1" height="1" fill="#000"/>
<rect x="1307.5" y="126.5" width="3" height="3" fill="none" stroke="#000" stroke-width="1"/>
<rect x="1312" y="124" width="1" height="14" fill="#000"/>
<rect x="1311" y="126" width="4" height="8" fill="#000"/>
<rect x="1317" y="127" width="1" height="28" fill="#000"/>
<rect x="1316" y="130" width="4" height="1" fill="#000"/>
<rect x="1322" y="104" width="1" height="2" fill="#000"/>
<rect x="1322" y="125" width="1" height="2" fill="#000"/>
<rect x="1321.5" y="106.5" width="3" height="18" fill="none" stroke="#000" stroke-width="1"/>
<rect x="1327" y="85" width="1" height="3" fill="#000"/>
<rect x="1327" y="97" width="1" height="4" fill="#000"/>
<rect x="1326.5" y="88.5" width="3" height="8" fill="none" stroke="#000" stroke-width="1"/>
<rect x="1332" y="66" width="1" height="8" fill="#000"/>
<rect x="1331.5" y="74.5" width="3" height="10" fill="none" stroke="#000" stroke-width="1"/>
<rect x="1337" y="68" width="1" height="28" fill="#000"/>
<rect x="1336" y="70" width="4" height="22" fill="#000"/>
<rect x="1342" y="80" width="1" height="12" fill="#000"/>
<rect x="1341" y="89" width="4" height="2" fill="#000"/>
<rect x="1347" y="62" width="1" height="48" fill="#000"/>
<rect x="1346" y="72" width="4" height="26" fill="#000"/>
<rect x="1352" y="82" width="1" height="5" fill="#000"/>
<rect x="1352" y="91" width="1" height="17" fill="#000"/>
<rect x="1351.5" y="87.5" width="3" height="3" fill="none" stroke="#000" stroke-width="1"/>
<rect x="1357" y="79" width="1" height="37" fill="#000"/>
<rect x="1356" y="81" width="4" height="25" fill="#000"/>
<rect x="1362" y="73" width="1" height="15" fill="#000"/>
<rect x="1362" y="101" width="1" height="5" fill="#000"/>
<rect x="1361.5" y="88.5" width="3" height="12" fill="none" stroke="#000" stroke-width="1"/>
<rect x="1367" y="82" width="1" height="32" fill="#000"/>
<rect x="1366" y="83" width="4" height="30" fill="#000"/>
<rect x="1372" y="107" width="1" height="22" fill="#000"/>
<rect x="1371" y="108" width="4" height="14" fill="#000"/>
<rect x="1377" y="128" width="1" height="43" fill="#000"/>
<rect x="1376" y="129" width="4" height="39" fill="#000"/>
<rect x="1382" y="154" width="1" height="26" fill="#000"/>
<rect x="1381" y="168" width="4" height="7" fill="#000"/>
<rect x="1386" y="165" width="1" height="25" fill="#000"/>
<rect x="1385" y="171" width="4" height="2" fill="#000"/>
<rect x="1391" y="150" width="1" height="30" fill="#000"/>
<rect x="1390" y="166" width="4" height="4" fill="#000"/>
<rect x="1396" y="155" width="1" height="8" fill="#000"/>
<rect x="1396" y="167" width="1" height="9" fill="#000"/>
<rect x="1395.5" y="163.5" width="3" height="3" fill="none" stroke="#000" stroke-width="1"/>
<rect x="1401" y="164" width="1" height="26" fill="#000"/>
<rect x="1400" y="166" width="4" height="10" fill="#000"/>
<rect x="1406" y="170" width="1" height="12" fill="#000"/>
<rect x="1405" y="178" width="4" height="1" fill="#000"/>
<rect x="1410" y="173" width="1" height="23" fill="#000"/>
<rect x="1409" y="177" width="4" height="15" fill="#000"/>
<rect x="1415" y="188" width="1" height="8" fill="#000"/>
<rect x="1414" y="192" width="4" height="1" fill="#000"/>
<rect x="1420" y="194" width="1" height="34" fill="#000"/>
<rect x="1419" y="194" width="4" height="22" fill="#000"/>
<rect x="1425" y="206" width="1" height="28" fill="#000"/>
<rect x="1424" y="215" width="4" height="7" fill="#000"/>
<rect x="1430" y="200" width="1" height="5" fill="#000"/>
<rect x="1430" y="219" width="1" height="3" fill="#000"/>
<rect x="1429.5" y="205.5" width="3" height="13" fill="none" stroke="#000" stroke-width="1"/>
<rect x="1435" y="176" width="1" height="1" fill="#000"/>
<rect x="1435" y="200" width="1" height="2" fill="#000"/>
<rect x="1434.5" y="177.5" width="3" height="22" fill="none" stroke="#000" stroke-width="1"/>
<rect x="1440" y="168" width="1" height="33" fill="#000"/>
<rect x="1439" y="170" width="4" height="30" fill="#000"/>
<rect x="1445" y="182" width="1" height="1" fill="#000"/>
<rect x="1444.5" y="183.5" width="3" height="14" fill="none" stroke="#000" stroke-width="1"/>
<rect x="1450" y="182" width="1" height="36" fill="#000"/>
<rect x="1449" y="184" width="4" height="34" fill="#000"/>
<rect x="1455" y="211" width="1" height="13" fill="#000"/>
<rect x="1454" y="213" width="4" height="3" fill="#000"/>
<rect x="1460" y="209" width="1" height="3" fill="#000"/>
<rect x="1460" y="219" width="1" height="2" fill="#000"/>
<rect x="1459.5" y="212.5" width="3" height="6" fill="none" stroke="#000" stroke-width="1"/>
<rect x="1464" y="207" width="1" height="9" fill="#000"/>
<rect x="1463" y="210" width="4" height="1" fill="#000"/>
<rect x="1468.5" y="199.5" width="3" height="13" fill="none" stroke="#000" stroke-width="1"/>
<rect x="1474" y="191" width="1" height="4" fill="#000"/>
<rect x="1474" y="198" width="1" height="4" fill="#000"/>
<rect x="1473.5" y="195.5" width="3" height="2" fill="none" stroke="#000" stroke-width="1"/>
<rect x="1479" y="190" width="1" height="14" fill="#000"/>
<rect x="1478" y="192" width="4" height="2" fill="#000"/>
<rect x="1484" y="182" width="1" height="25" fill="#000"/>
<rect x="1483" y="187" width="4" height="12" fill="#000"/>
<rect x="1489" y="189" width="1" height="1" fill="#000"/>
<rect x="1488.5" y="190.5" width="3" height="12" fill="none" stroke="#000" stroke-width="1"/>
<rect x="1494" y="170" width="1" height="1" fill="#000"/>
<rect x="1494" y="197" width="1" height="3" fill="#000"/>
<rect x="1493.5" y="171.5" width="3" height="25" fill="none" stroke="#000" stroke-width="1"/>
<rect x="1499" y="171" width="1" height="16" fill="#000"/>
<rect x="1498" y="173" width="4" height="9" fill="#000"/>
<rect x="1504" y="179" width="1" height="25" fill="#000"/>
<rect x="1503" y="180" width="4" height="23" fill="#000"/>
<rect x="1507.5" y="185.5" width="3" height="16" fill="none" stroke="#000" stroke-width="1"/>
<rect x="1512.5" y="163.5" width="3" height="21" fill="none" stroke="#000" stroke-width="1"/>
<rect x="1518" y="163" width="1" height="16" fill="#000"/>
<rect x="1517" y="166" width="4" height="4" fill="#000"/>
<rect x="1523" y="163" width="1" height="26" fill="#000"/>
<rect x="1522" y="175" width="4" height="1" fill="#000"/>
<rect x="1528" y="165" width="1" height="17" fill="#000"/>
<rect x="1527" y="170" width="4" height="1" fill="#000"/>
<rect x="1533" y="159" width="1" height="30" fill="#000"/>
<rect x="1532" y="169" width="4" height="16" fill="#000"/>
<rect x="1538" y="178" width="1" height="14" fill="#000"/>
<rect x="1537" y="185" width="4" height="1" fill="#000"/>
<rect x="1543" y="186" width="1" height="22" fill="#000"/>
<rect x="1542" y="186" width="4" height="21" fill="#000"/>
<rect x="1548" y="180" width="1" height="2" fill="#000"/>
<rect x="1548" y="203" width="1" height="1" fill="#000"/>
<rect x="1547.5" y="182.5" width="3" height="20" fill="none" stroke="#000" stroke-width="1"/>
<rect x="1553" y="159" width="1" height="23" fill="#000"/>
<rect x="1553" y="185" width="1" height="9" fill="#000"/>
<rect x="1552.5" y="182.5" width="3" height="2" fill="none" stroke="#000" stroke-width="1"/>
<rect x="1558" y="164" width="1" height="28" fill="#000"/>
<rect x="1557" y="166" width="4" height="24" fill="#000"/>
<rect x="1563" y="192" width="1" height="24" fill="#000"/>
<rect x="1562" y="193" width="4" height="15" fill="#000"/>
<rect x="1568" y="184" width="1" height="5" fill="#000"/>
<rect x="1568" y="203" width="1" height="1" fill="#000"/>
<rect x="1567.5" y="189.5" width="3" height="13" fill="none" stroke="#000" stroke-width="1"/>
<rect x="1573" y="172" width="1" height="5" fill="#000"/>
<rect x="1573" y="189" width="1" height="3" fill="#000"/>
<rect x="1572.5" y="177.5" width="3" height="11" fill="none" stroke="#000" stroke-width="1"/>
<rect x="1578" y="155" width="1" height="1" fill="#000"/>
<rect x="1578" y="174" width="1" height="10" fill="#000"/>
<rect x="1577.5" y="156.5" width="3" height="17" fill="none" stroke="#000" stroke-width="1"/>
<rect x="1582" y="160" width="1" height="46" fill="#000"/>
<rect x="1581" y="161" width="4" height="39" fill="#000"/>
<rect x="1587" y="187" width="1" height="35" fill="#000"/>
<rect x="1586" y="195" width="4" height="21" fill="#000"/>
<rect x="1592" y="219" width="1" height="2" fill="#000"/>
<rect x="1592" y="236" width="1" height="6" fill="#000"/>
<rect x="1591.5" y="221.5" width="3" height="14" fill="none" stroke="#000" stroke-width="1"/>
<rect x="1597" y="207" width="1" height="2" fill="#000"/>
<rect x="1597" y="223" width="1" height="1" fill="#000"/>
<rect x="1596.5" y="209.5" width="3" height="13" fill="none" stroke="#000" stroke-width="1"/>
<rect x="1602" y="188" width="1" height="10" fill="#000"/>
<rect x="1601.5" y="198.5" width="3" height="3" fill="none" stroke="#000" stroke-width="1"/>
<rect x="1607" y="177" width="1" height="6" fill="#000"/>
<rect x="1606.5" y="183.5" width="3" height="17" fill="none" stroke="#000" stroke-width="1"/>
<rect x="1612" y="157" width="1" height="4" fill="#000"/>
<rect x="1612" y="180" width="1" height="3" fill="#000"/>
<rect x="1611.5" y="161.5" width="3" height="18" fill="none" stroke="#000" stroke-width="1"/>
<rect x="1617" y="163" width="1" height="72" fill="#000"/>
<rect x="1616" y="166" width="4" height="68" fill="#000"/>
<rect x="1622" y="223" width="1" height="2" fill="#000"/>
<rect x="1622" y="245" width="1" height="2" fill="#000"/>
<rect x="1621.5" y="225.5" width="3" height="19" fill="none" stroke="#000" stroke-width="1"/>
<rect x="1626" y="192" width="1" height="1" fill="#000"/>
<rect x="1626" y="217" width="1" height="1" fill="#000"/>
<rect x="1625.5" y="193.5" width="3" height="23" fill="none" stroke="#000" stroke-width="1"/>
<rect x="1631" y="183" width="1" height="9" fill="#000"/>
<rect x="1630" y="189" width="4" height="2" fill="#000"/>
<rect x="1636" y="170" width="1" height="3" fill="#000"/>
<rect x="1635.5" y="173.5" width="3" height="21" fill="none" stroke="#000" stroke-width="1"/>
<rect x="1641" y="170" width="1" height="2" fill="#000"/>
<rect x="1641" y="175" width="1" height="11" fill="#000"/>
<rect x="1640.5" y="172.5" width="3" height="2" fill="none" stroke="#000" stroke-width="1"/>
<rect x="1646" y="166" width="1" height="17" fill="#000"/>
<rect x="1645" y="170" width="4" height="4" fill="#000"/>
<rect x="1650" y="166" width="1" height="8" fill="#000"/>
<rect x="1650" y="177" width="1" height="8" fill="#000"/>
<rect x="1649.5" y="174.5" width="3" height="2" fill="none" stroke="#000" stroke-width="1"/>
<rect x="1655" y="159" width="1" height="11" fill="#000"/>
<rect x="1655" y="173" width="1" height="1" fill="#000"/>
<rect x="1654.5" y="170.5" width="3" height="2" fill="none" stroke="#000" stroke-width="1"/>
<rect x="1660" y="136" width="1" height="1" fill="#000"/>
<rect x="1659.5" y="137.5" width="3" height="31" fill="none" stroke="#000" stroke-width="1"/>
<rect x="1665" y="135" width="1" height="45" fill="#000"/>
<rect x="1664" y="136" width="4" height="31" fill="#000"/>
<rect x="1670" y="153" width="1" height="14" fill="#000"/>
<rect x="1669" y="160" width="4" height="3" fill="#000"/>
<rect x="1675" y="164" width="1" height="28" fill="#000"/>
<rect x="1674" y="167" width="4" height="25" fill="#000"/>
<rect x="1680" y="178" width="1" height="18" fill="#000"/>
<rect x="1679" y="190" width="4" height="3" fill="#000"/>
<rect x="1685" y="176" width="1" height="18" fill="#000"/>
<rect x="1684" y="185" width="4" height="3" fill="#000"/>
<rect x="1690" y="188" width="1" height="2" fill="#000"/>
<rect x="1690" y="193" width="1" height="12" fill="#000"/>
<rect x="1689.5" y="190.5" width="3" height="2" fill="none" stroke="#000" stroke-width="1"/>
<rect x="1695" y="172" width="1" height="2" fill="#000"/>
<rect x="1695" y="182" width="1" height="8" fill="#000"/>
<rect x="1694.5" y="174.5" width="3" height="7" fill="none" stroke="#000" stroke-width="1"/>
<rect x="1699" y="152" width="1" height="2" fill="#000"/>
<rect x="1699" y="173" width="1" height="9" fill="#000"/>
<rect x="1698.5" y="154.5" width="3" height="18" fill="none" stroke="#000" stroke-width="1"/>
<rect x="1704" y="141" width="1" height="2" fill="#000"/>
<rect x="1703.5" y="143.5" width="3" height="14" fill="none" stroke="#000" stroke-width="1"/>
<rect x="1709" y="115" width="1" height="2" fill="#000"/>
<rect x="1709" y="143" width="1" height="1" fill="#000"/>
<rect x="1708.5" y="117.5" width="3" height="25" fill="none" stroke="#000" stroke-width="1"/>
<rect x="1714" y="109" width="1" height="32" fill="#000"/>
<rect x="1713" y="116" width="4" height="24" fill="#000"/>
<rect x="1719" y="130" width="1" height="30" fill="#000"/>
<rect x="1718" y="140" width="4" height="18" fill="#000"/>
<rect x="1724" y="143" width="1" height="17" fill="#000"/>
<rect x="1723" y="149" width="4" height="3" fill="#000"/>
<rect x="1729" y="146" width="1" height="10" fill="#000"/>
<rect x="1728" y="151" width="4" height="2" fill="#000"/>
<rect x="1734" y="124" width="1" height="2" fill="#000"/>
<rect x="1733.5" y="126.5" width="3" height="21" fill="none" stroke="#000" stroke-width="1"/>
<rect x="1739" y="121" width="1" height="23" fill="#000"/>
<rect x="1738" y="123" width="4" height="20" fill="#000"/>
<rect x="1744" y="108" width="1" height="1" fill="#000"/>
<rect x="1743.5" y="109.5" width="3" height="21" fill="none" stroke="#000" stroke-width="1"/>
<rect x="1749" y="108" width="1" height="2" fill="#000"/>
<rect x="1749" y="115" width="1" height="7" fill="#000"/>
<rect x="1748.5" y="110.5" width="3" height="4" fill="none" stroke="#000" stroke-width="1"/>
<rect x="1754" y="97" width="1" height="18" fill="#000"/>
<rect x="1753" y="107" width="4" height="1" fill="#000"/>
<rect x="1759" y="86" width="1" height="6" fill="#000"/>
<rect x="1759" y="101" width="1" height="7" fill="#000"/>
<rect x="1758.5" y="92.5" width="3" height="8" fill="none" stroke="#000" stroke-width="1"/>
<rect x="1764" y="87" width="1" height="21" fill="#000"/>
<rect x="1763" y="93" width="4" height="1" fill="#000"/>
<rect x="1768" y="89" width="1" height="31" fill="#000"/>
<rect x="1767" y="90" width="4" height="3" fill="#000"/>
<rect x="1773" y="68" width="1" height="1" fill="#000"/>
<rect x="1772.5" y="69.5" width="3" height="25" fill="none" stroke="#000" stroke-width="1"/>
<rect x="1778" y="54" width="1" height="15" fill="#000"/>
<rect x="1777" y="66" width="4" height="1" fill="#000"/>
<rect x="1783" y="55" width="1" height="24" fill="#000"/>
<rect x="1782" y="56" width="4" height="17" fill="#000"/>
<rect x="1788" y="72" width="1" height="19" fill="#000"/>
<rect x="1787" y="74" width="4" height="7" fill="#000"/>
<rect x="1793" y="56" width="1" height="6" fill="#000"/>
<rect x="1793" y="66" width="1" height="3" fill="#000"/>
<rect x="1792.5" y="62.5" width="3" height="3" fill="none" stroke="#000" stroke-width="1"/>
<rect x="1798" y="64" width="1" height="12" fill="#000"/>
<rect x="1797" y="67" width="4" height="4" fill="#000"/>
</g>
<g shape-rendering="crispEdges">
<rect x="36" y="65" width="1819" height="1" fill="#000"/>
<rect x="1073" y="155" width="782" height="1" fill="#000"/>
<rect x="1141" y="251" width="714" height="1" fill="#000"/>
<rect x="1033" y="305" width="133" height="1" fill="#000"/>
<rect x="989" y="352" width="112" height="1" fill="#000"/>
<rect x="950" y="411" width="905" height="1" fill="#000"/>
<rect x="881" y="457" width="108" height="1" fill="#000"/>
<rect x="36" y="528" width="98" height="1" fill="#000"/>
<rect x="36" y="571" width="1819" height="1" fill="#000"/>
<rect x="36" y="621" width="1819" height="1" fill="#000"/>
<rect x="36" y="655" width="1819" height="1" fill="#000"/>
<rect x="36" y="517" width="1819" height="1" fill="#0000ff"/>
<rect x="36" y="636" width="1819" height="1" fill="#0000ff"/>
<rect x="36" y="685" width="1819" height="1" fill="#0000ff"/>
<rect x="36" y="850" width="1819" height="1" fill="#0000ff"/>
<rect x="646" y="485" width="279" height="1" fill="#ff0000"/>
<rect x="116" y="516" width="12" height="1" fill="#ff0000"/>
</g>
<line x1="37" y1="569.5" x2="356" y2="565.3" stroke="#0000ff" stroke-width="1" stroke-dasharray="6 4" shape-rendering="crispEdges"/>
<line x1="36" y1="563.4" x2="194.7" y2="535.4" stroke="#008a00" stroke-width="1" shape-rendering="crispEdges"/>
<line x1="568" y1="586.2" x2="1855" y2="201.38700000000006" stroke="#008c00" stroke-width="1" shape-rendering="crispEdges"/>
<line x1="210" y1="655" x2="1855" y2="559.8" stroke="#3cb371" stroke-width="1" shape-rendering="crispEdges"/>
<line x1="140.9" y1="518.5" x2="641" y2="556.3" stroke="#ff0000" stroke-width="1" shape-rendering="crispEdges"/>
<line x1="1097" y1="152.2" x2="1248" y2="226" stroke="#ff0000" stroke-width="1" shape-rendering="crispEdges"/>
<line x1="328" y1="601.4" x2="664.9" y2="578.1" stroke="#000" stroke-width="1" shape-rendering="crispEdges"/>
<line x1="984" y1="458" x2="1748.8" y2="207.1" stroke="#000" stroke-width="1" shape-rendering="crispEdges"/>
<line x1="979.5" y1="463.4" x2="1130.6" y2="174.3" stroke="#000" stroke-width="1" shape-rendering="crispEdges"/>
<line x1="1165.9" y1="386.7" x2="1396" y2="94.1" stroke="#000" stroke-width="1" shape-rendering="crispEdges"/>
<line x1="1322.8" y1="54.9" x2="1748" y2="157.3" stroke="#000" stroke-width="1" shape-rendering="crispEdges"/>
<line x1="1620" y1="250" x2="1733.5" y2="185.4" stroke="#000" stroke-width="1" shape-rendering="crispEdges"/>
<line x1="1690.2" y1="210" x2="1812.8" y2="56.3" stroke="#000" stroke-width="1" shape-rendering="crispEdges"/>
<polygon points="43.5,541 48.2,541 48.2,539 52.2,542 48.2,545 48.2,543 43.5,543" fill="#1a9a50"/>
<polygon points="52,549.5 48,549.5 48,547.5 44,550.5 48,553.5 48,551.5 52,551.5" fill="#ff0000"/>
<polygon points="165.7,542.5 170,542.5 170,540.5 174,543.5 170,546.5 170,544.5 165.7,544.5" fill="#109020"/>
<polygon points="174,547.3 169.9,547.3 169.9,545.3 165.9,548.3 169.9,551.3 169.9,549.3 174,549.3" fill="#ff0000"/>
<polygon points="238,558.2 233.9,558.2 233.9,556.2 229.9,559.2 233.9,562.2 233.9,560.2 238,560.2" fill="#ff0000"/>
<g shape-rendering="crispEdges">
<rect x="38" y="817" width="1" height="63" fill="#0000ff"/>
<rect x="43" y="821" width="1" height="59" fill="#0000ff"/>
<rect x="48" y="848" width="1" height="32" fill="#0000ff"/>
<rect x="53" y="842" width="1" height="38" fill="#0000ff"/>
<rect x="57" y="832" width="1" height="48" fill="#0000ff"/>
<rect x="62" y="849" width="1" height="31" fill="#0000ff"/>
<rect x="67" y="853" width="1" height="27" fill="#0000ff"/>
<rect x="72" y="851" width="1" height="29" fill="#0000ff"/>
<rect x="77" y="851" width="1" height="29" fill="#0000ff"/>
<rect x="81" y="855" width="1" height="25" fill="#0000ff"/>
<rect x="86" y="861" width="1" height="19" fill="#0000ff"/>
<rect x="91" y="865" width="1" height="15" fill="#0000ff"/>
<rect x="96" y="862" width="1" height="18" fill="#0000ff"/>
<rect x="101" y="854" width="1" height="26" fill="#0000ff"/>
<rect x="106" y="866" width="1" height="14" fill="#0000ff"/>
<rect x="111" y="840" width="1" height="40" fill="#0000ff"/>
<rect x="116" y="839" width="1" height="41" fill="#0000ff"/>
<rect x="121" y="854" width="1" height="26" fill="#0000ff"/>
<rect x="126" y="858" width="1" height="22" fill="#0000ff"/>
<rect x="130" y="851" width="1" height="29" fill="#0000ff"/>
<rect x="135" y="852" width="1" height="28" fill="#0000ff"/>
<rect x="140" y="842" width="1" height="38" fill="#0000ff"/>
<rect x="145" y="844" width="1" height="36" fill="#0000ff"/>
<rect x="150" y="848" width="1" height="32" fill="#0000ff"/>
<rect x="155" y="861" width="1" height="19" fill="#0000ff"/>
<rect x="160" y="828" width="1" height="52" fill="#0000ff"/>
<rect x="165" y="853" width="1" height="27" fill="#0000ff"/>
<rect x="170" y="853" width="1" height="27" fill="#0000ff"/>
<rect x="175" y="862" width="1" height="18" fill="#0000ff"/>
<rect x="180" y="856" width="1" height="24" fill="#0000ff"/>
<rect x="185" y="837" width="1" height="43" fill="#0000ff"/>
<rect x="190" y="864" width="1" height="16" fill="#0000ff"/>
<rect x="195" y="842" width="1" height="38" fill="#0000ff"/>
<rect x="200" y="861" width="1" height="19" fill="#0000ff"/>
<rect x="204" y="862" width="1" height="18" fill="#0000ff"/>
<rect x="209" y="856" width="1" height="24" fill="#0000ff"/>
<rect x="214" y="861" width="1" height="19" fill="#0000ff"/>
<rect x="219" y="855" width="1" height="25" fill="#0000ff"/>
<rect x="224" y="856" width="1" height="24" fill="#0000ff"/>
<rect x="229" y="858" width="1" height="22" fill="#0000ff"/>
<rect x="234" y="858" width="1" height="22" fill="#0000ff"/>
<rect x="239" y="861" width="1" height="19" fill="#0000ff"/>
<rect x="244" y="856" width="1" height="24" fill="#0000ff"/>
<rect x="249" y="859" width="1" height="21" fill="#0000ff"/>
<rect x="253" y="864" width="1" height="16" fill="#0000ff"/>
<rect x="258" y="868" width="1" height="12" fill="#0000ff"/>
<rect x="263" y="853" width="1" height="27" fill="#0000ff"/>
<rect x="268" y="862" width="1" height="18" fill="#0000ff"/>
<rect x="273" y="850" width="1" height="30" fill="#0000ff"/>
<rect x="278" y="853" width="1" height="27" fill="#0000ff"/>
<rect x="283" y="867" width="1" height="13" fill="#0000ff"/>
<rect x="288" y="868" width="1" height="12" fill="#0000ff"/>
<rect x="293" y="845" width="1" height="35" fill="#0000ff"/>
<rect x="298" y="837" width="1" height="43" fill="#0000ff"/>
<rect x="303" y="837" width="1" height="43" fill="#0000ff"/>
<rect x="308" y="858" width="1" height="22" fill="#0000ff"/>
<rect x="313" y="858" width="1" height="22" fill="#0000ff"/>
<rect x="318" y="839" width="1" height="41" fill="#0000ff"/>
<rect x="322" y="826" width="1" height="54" fill="#0000ff"/>
<rect x="327" y="858" width="1" height="22" fill="#0000ff"/>
<rect x="332" y="843" width="1" height="37" fill="#0000ff"/>
<rect x="337" y="834" width="1" height="46" fill="#0000ff"/>
<rect x="342" y="854" width="1" height="26" fill="#0000ff"/>
<rect x="347" y="861" width="1" height="19" fill="#0000ff"/>
<rect x="351" y="862" width="1" height="18" fill="#0000ff"/>
<rect x="356" y="859" width="1" height="21" fill="#0000ff"/>
<rect x="361" y="862" width="1" height="18" fill="#0000ff"/>
<rect x="366" y="868" width="1" height="12" fill="#0000ff"/>
<rect x="371" y="852" width="1" height="28" fill="#0000ff"/>
<rect x="376" y="859" width="1" height="21" fill="#0000ff"/>
<rect x="381" y="844" width="1" height="36" fill="#0000ff"/>
<rect x="386" y="860" width="1" height="20" fill="#0000ff"/>
<rect x="391" y="865" width="1" height="15" fill="#0000ff"/>
<rect x="395" y="869" width="1" height="11" fill="#0000ff"/>
<rect x="400" y="868" width="1" height="12" fill="#0000ff"/>
<rect x="405" y="871" width="1" height="9" fill="#0000ff"/>
<rect x="410" y="866" width="1" height="14" fill="#0000ff"/>
<rect x="415" y="851" width="1" height="29" fill="#0000ff"/>
<rect x="420" y="854" width="1" height="26" fill="#0000ff"/>
<rect x="425" y="854" width="1" height="26" fill="#0000ff"/>
<rect x="430" y="777" width="1" height="103" fill="#0000ff"/>
<rect x="435" y="832" width="1" height="48" fill="#0000ff"/>
<rect x="440" y="856" width="1" height="24" fill="#0000ff"/>
<rect x="444" y="856" width="1" height="24" fill="#0000ff"/>
<rect x="449" y="857" width="1" height="23" fill="#0000ff"/>
<rect x="454" y="858" width="1" height="22" fill="#0000ff"/>
<rect x="459" y="865" width="1" height="15" fill="#0000ff"/>
<rect x="464" y="861" width="1" height="19" fill="#0000ff"/>
<rect x="469" y="863" width="1" height="17" fill="#0000ff"/>
<rect x="474" y="863" width="1" height="17" fill="#0000ff"/>
<rect x="479" y="869" width="1" height="11" fill="#0000ff"/>
<rect x="484" y="827" width="1" height="53" fill="#0000ff"/>
<rect x="489" y="852" width="1" height="28" fill="#0000ff"/>
<rect x="494" y="852" width="1" height="28" fill="#0000ff"/>
<rect x="499" y="854" width="1" height="26" fill="#0000ff"/>
<rect x="504" y="868" width="1" height="12" fill="#0000ff"/>
<rect x="509" y="860" width="1" height="20" fill="#0000ff"/>
<rect x="514" y="868" width="1" height="12" fill="#0000ff"/>
<rect x="519" y="851" width="1" height="29" fill="#0000ff"/>
<rect x="524" y="854" width="1" height="26" fill="#0000ff"/>
<rect x="529" y="844" width="1" height="36" fill="#0000ff"/>
<rect x="533" y="842" width="1" height="38" fill="#0000ff"/>
<rect x="538" y="838" width="1" height="42" fill="#0000ff"/>
<rect x="543" y="842" width="1" height="38" fill="#0000ff"/>
<rect x="548" y="859" width="1" height="21" fill="#0000ff"/>
<rect x="553" y="856" width="1" height="24" fill="#0000ff"/>
<rect x="558" y="859" width="1" height="21" fill="#0000ff"/>
<rect x="563" y="859" width="1" height="21" fill="#0000ff"/>
<rect x="567" y="830" width="1" height="50" fill="#0000ff"/>
<rect x="572" y="848" width="1" height="32" fill="#0000ff"/>
<rect x="577" y="846" width="1" height="34" fill="#0000ff"/>
<rect x="582" y="851" width="1" height="29" fill="#0000ff"/>
<rect x="587" y="837" width="1" height="43" fill="#0000ff"/>
<rect x="592" y="851" width="1" height="29" fill="#0000ff"/>
<rect x="597" y="854" width="1" height="26" fill="#0000ff"/>
<rect x="602" y="860" width="1" height="20" fill="#0000ff"/>
<rect x="607" y="857" width="1" height="23" fill="#0000ff"/>
<rect x="612" y="864" width="1" height="16" fill="#0000ff"/>
<rect x="616" y="864" width="1" height="16" fill="#0000ff"/>
<rect x="621" y="864" width="1" height="16" fill="#0000ff"/>
<rect x="626" y="859" width="1" height="21" fill="#0000ff"/>
<rect x="631" y="850" width="1" height="30" fill="#0000ff"/>
<rect x="636" y="837" width="1" height="43" fill="#0000ff"/>
<rect x="640" y="844" width="1" height="36" fill="#0000ff"/>
<rect x="645" y="862" width="1" height="18" fill="#0000ff"/>
<rect x="650" y="859" width="1" height="21" fill="#0000ff"/>
<rect x="655" y="847" width="1" height="33" fill="#0000ff"/>
<rect x="660" y="817" width="1" height="63" fill="#0000ff"/>
<rect x="665" y="814" width="1" height="66" fill="#0000ff"/>
<rect x="670" y="822" width="1" height="58" fill="#0000ff"/>
<rect x="680" y="819" width="1" height="61" fill="#0000ff"/>
<rect x="685" y="852" width="1" height="28" fill="#0000ff"/>
<rect x="690" y="853" width="1" height="27" fill="#0000ff"/>
<rect x="695" y="852" width="1" height="28" fill="#0000ff"/>
<rect x="700" y="859" width="1" height="21" fill="#0000ff"/>
<rect x="705" y="842" width="1" height="38" fill="#0000ff"/>
<rect x="710" y="859" width="1" height="21" fill="#0000ff"/>
<rect x="714" y="849" width="1" height="31" fill="#0000ff"/>
<rect x="719" y="859" width="1" height="21" fill="#0000ff"/>
<rect x="724" y="822" width="1" height="58" fill="#0000ff"/>
<rect x="729" y="861" width="1" height="19" fill="#0000ff"/>
<rect x="734" y="868" width="1" height="12" fill="#0000ff"/>
<rect x="739" y="864" width="1" height="16" fill="#0000ff"/>
<rect x="744" y="865" width="1" height="15" fill="#0000ff"/>
<rect x="749" y="843" width="1" height="37" fill="#0000ff"/>
<rect x="754" y="853" width="1" height="27" fill="#0000ff"/>
<rect x="759" y="856" width="1" height="24" fill="#0000ff"/>
<rect x="763" y="848" width="1" height="32" fill="#0000ff"/>
<rect x="768" y="853" width="1" height="27" fill="#0000ff"/>
<rect x="773" y="838" width="1" height="42" fill="#0000ff"/>
<rect x="778" y="851" width="1" height="29" fill="#0000ff"/>
<rect x="783" y="845" width="1" height="35" fill="#0000ff"/>
<rect x="788" y="852" width="1" height="28" fill="#0000ff"/>
<rect x="793" y="860" width="1" height="20" fill="#0000ff"/>
<rect x="798" y="858" width="1" height="22" fill="#0000ff"/>
<rect x="803" y="862" width="1" height="18" fill="#0000ff"/>
<rect x="808" y="865" width="1" height="15" fill="#0000ff"/>
<rect x="812" y="863" width="1" height="17" fill="#0000ff"/>
<rect x="817" y="857" width="1" height="23" fill="#0000ff"/>
<rect x="822" y="852" width="1" height="28" fill="#0000ff"/>
<rect x="827" y="864" width="1" height="16" fill="#0000ff"/>
<rect x="832" y="867" width="1" height="13" fill="#0000ff"/>
<rect x="837" y="863" width="1" height="17" fill="#0000ff"/>
<rect x="842" y="867" width="1" height="13" fill="#0000ff"/>
<rect x="847" y="840" width="1" height="40" fill="#0000ff"/>
<rect x="852" y="856" width="1" height="24" fill="#0000ff"/>
<rect x="857" y="813" width="1" height="67" fill="#0000ff"/>
<rect x="861" y="853" width="1" height="27" fill="#0000ff"/>
<rect x="866" y="842" width="1" height="38" fill="#0000ff"/>
<rect x="871" y="849" width="1" height="31" fill="#0000ff"/>
<rect x="876" y="851" width="1" height="29" fill="#0000ff"/>
<rect x="881" y="854" width="1" height="26" fill="#0000ff"/>
<rect x="886" y="842" width="1" height="38" fill="#0000ff"/>
<rect x="891" y="827" width="1" height="53" fill="#0000ff"/>
<rect x="896" y="841" width="1" height="39" fill="#0000ff"/>
<rect x="901" y="852" width="1" height="28" fill="#0000ff"/>
<rect x="906" y="844" width="1" height="36" fill="#0000ff"/>
<rect x="910" y="847" width="1" height="33" fill="#0000ff"/>
<rect x="915" y="843" width="1" height="37" fill="#0000ff"/>
<rect x="920" y="849" width="1" height="31" fill="#0000ff"/>
<rect x="925" y="859" width="1" height="21" fill="#0000ff"/>
<rect x="930" y="854" width="1" height="26" fill="#0000ff"/>
<rect x="935" y="852" width="1" height="28" fill="#0000ff"/>
<rect x="940" y="837" width="1" height="43" fill="#0000ff"/>
<rect x="945" y="852" width="1" height="28" fill="#0000ff"/>
<rect x="950" y="839" width="1" height="41" fill="#0000ff"/>
<rect x="955" y="858" width="1" height="22" fill="#0000ff"/>
<rect x="959" y="816" width="1" height="64" fill="#0000ff"/>
<rect x="964" y="844" width="1" height="36" fill="#0000ff"/>
<rect x="969" y="864" width="1" height="16" fill="#0000ff"/>
<rect x="974" y="854" width="1" height="26" fill="#0000ff"/>
<rect x="979" y="851" width="1" height="29" fill="#0000ff"/>
<rect x="984" y="814" width="1" height="66" fill="#0000ff"/>
<rect x="989" y="804" width="1" height="76" fill="#0000ff"/>
<rect x="994" y="785" width="1" height="95" fill="#0000ff"/>
<rect x="999" y="780" width="1" height="100" fill="#0000ff"/>
<rect x="1004" y="793" width="1" height="87" fill="#0000ff"/>
<rect x="1008" y="809" width="1" height="71" fill="#0000ff"/>
<rect x="1013" y="823" width="1" height="57" fill="#0000ff"/>
<rect x="1018" y="832" width="1" height="48" fill="#0000ff"/>
<rect x="1023" y="792" width="1" height="88" fill="#0000ff"/>
<rect x="1028" y="825" width="1" height="55" fill="#0000ff"/>
<rect x="1033" y="797" width="1" height="83" fill="#0000ff"/>
<rect x="1038" y="795" width="1" height="85" fill="#0000ff"/>
<rect x="1043" y="675" width="1" height="205" fill="#0000ff"/>
<rect x="1048" y="735" width="1" height="145" fill="#0000ff"/>
<rect x="1053" y="795" width="1" height="85" fill="#0000ff"/>
<rect x="1058" y="793" width="1" height="87" fill="#0000ff"/>
<rect x="1063" y="782" width="1" height="98" fill="#0000ff"/>
<rect x="1068" y="811" width="1" height="69" fill="#0000ff"/>
<rect x="1073" y="796" width="1" height="84" fill="#0000ff"/>
<rect x="1078" y="784" width="1" height="96" fill="#0000ff"/>
<rect x="1082" y="819" width="1" height="61" fill="#0000ff"/>
<rect x="1087" y="776" width="1" height="104" fill="#0000ff"/>
<rect x="1092" y="787" width="1" height="93" fill="#0000ff"/>
<rect x="1097" y="805" width="1" height="75" fill="#0000ff"/>
<rect x="1102" y="770" width="1" height="110" fill="#0000ff"/>
<rect x="1107" y="801" width="1" height="79" fill="#0000ff"/>
<rect x="1112" y="780" width="1" height="100" fill="#0000ff"/>
<rect x="1117" y="821" width="1" height="59" fill="#0000ff"/>
<rect x="1122" y="846" width="1" height="34" fill="#0000ff"/>
<rect x="1127" y="844" width="1" height="36" fill="#0000ff"/>
<rect x="1132" y="851" width="1" height="29" fill="#0000ff"/>
<rect x="1137" y="836" width="1" height="44" fill="#0000ff"/>
<rect x="1142" y="837" width="1" height="43" fill="#0000ff"/>
<rect x="1146" y="846" width="1" height="34" fill="#0000ff"/>
<rect x="1150" y="846" width="1" height="34" fill="#0000ff"/>
<rect x="1155" y="825" width="1" height="55" fill="#0000ff"/>
<rect x="1160" y="771" width="1" height="109" fill="#0000ff"/>
<rect x="1165" y="767" width="1" height="113" fill="#0000ff"/>
<rect x="1170" y="804" width="1" height="76" fill="#0000ff"/>
<rect x="1175" y="854" width="1" height="26" fill="#0000ff"/>
<rect x="1180" y="824" width="1" height="56" fill="#0000ff"/>
<rect x="1185" y="848" width="1" height="32" fill="#0000ff"/>
<rect x="1190" y="841" width="1" height="39" fill="#0000ff"/>
<rect x="1195" y="838" width="1" height="42" fill="#0000ff"/>
<rect x="1200" y="844" width="1" height="36" fill="#0000ff"/>
<rect x="1204" y="862" width="1" height="18" fill="#0000ff"/>
<rect x="1209" y="859" width="1" height="21" fill="#0000ff"/>
<rect x="1214" y="845" width="1" height="35" fill="#0000ff"/>
<rect x="1219" y="861" width="1" height="19" fill="#0000ff"/>
<rect x="1224" y="861" width="1" height="19" fill="#0000ff"/>
<rect x="1229" y="859" width="1" height="21" fill="#0000ff"/>
<rect x="1234" y="852" width="1" height="28" fill="#0000ff"/>
<rect x="1239" y="852" width="1" height="28" fill="#0000ff"/>
<rect x="1244" y="829" width="1" height="51" fill="#0000ff"/>
<rect x="1249" y="852" width="1" height="28" fill="#0000ff"/>
<rect x="1254" y="836" width="1" height="44" fill="#0000ff"/>
<rect x="1259" y="854" width="1" height="26" fill="#0000ff"/>
<rect x="1263" y="841" width="1" height="39" fill="#0000ff"/>
<rect x="1268" y="830" width="1" height="50" fill="#0000ff"/>
<rect x="1273" y="806" width="1" height="74" fill="#0000ff"/>
<rect x="1278" y="853" width="1" height="27" fill="#0000ff"/>
<rect x="1283" y="846" width="1" height="34" fill="#0000ff"/>
<rect x="1288" y="841" width="1" height="39" fill="#0000ff"/>
<rect x="1293" y="821" width="1" height="59" fill="#0000ff"/>
<rect x="1298" y="851" width="1" height="29" fill="#0000ff"/>
<rect x="1303" y="833" width="1" height="47" fill="#0000ff"/>
<rect x="1308" y="846" width="1" height="34" fill="#0000ff"/>
<rect x="1312" y="854" width="1" height="26" fill="#0000ff"/>
<rect x="1317" y="848" width="1" height="32" fill="#0000ff"/>
<rect x="1322" y="848" width="1" height="32" fill="#0000ff"/>
<rect x="1327" y="832" width="1" height="48" fill="#0000ff"/>
<rect x="1332" y="839" width="1" height="41" fill="#0000ff"/>
<rect x="1337" y="847" width="1" height="33" fill="#0000ff"/>
<rect x="1342" y="846" width="1" height="34" fill="#0000ff"/>
<rect x="1347" y="833" width="1" height="47" fill="#0000ff"/>
<rect x="1352" y="848" width="1" height="32" fill="#0000ff"/>
<rect x="1357" y="832" width="1" height="48" fill="#0000ff"/>
<rect x="1362" y="836" width="1" height="44" fill="#0000ff"/>
<rect x="1367" y="837" width="1" height="43" fill="#0000ff"/>
<rect x="1372" y="848" width="1" height="32" fill="#0000ff"/>
<rect x="1377" y="794" width="1" height="86" fill="#0000ff"/>
<rect x="1382" y="822" width="1" height="58" fill="#0000ff"/>
<rect x="1386" y="838" width="1" height="42" fill="#0000ff"/>
<rect x="1391" y="841" width="1" height="39" fill="#0000ff"/>
<rect x="1396" y="837" width="1" height="43" fill="#0000ff"/>
<rect x="1401" y="844" width="1" height="36" fill="#0000ff"/>
<rect x="1406" y="844" width="1" height="36" fill="#0000ff"/>
<rect x="1410" y="849" width="1" height="31" fill="#0000ff"/>
<rect x="1415" y="835" width="1" height="45" fill="#0000ff"/>
<rect x="1420" y="838" width="1" height="42" fill="#0000ff"/>
<rect x="1425" y="840" width="1" height="40" fill="#0000ff"/>
<rect x="1430" y="840" width="1" height="40" fill="#0000ff"/>
<rect x="1435" y="833" width="1" height="47" fill="#0000ff"/>
<rect x="1440" y="840" width="1" height="40" fill="#0000ff"/>
<rect x="1445" y="848" width="1" height="32" fill="#0000ff"/>
<rect x="1450" y="846" width="1" height="34" fill="#0000ff"/>
<rect x="1455" y="845" width="1" height="35" fill="#0000ff"/>
<rect x="1460" y="858" width="1" height="22" fill="#0000ff"/>
<rect x="1464" y="860" width="1" height="20" fill="#0000ff"/>
<rect x="1469" y="860" width="1" height="20" fill="#0000ff"/>
<rect x="1474" y="854" width="1" height="26" fill="#0000ff"/>
<rect x="1479" y="852" width="1" height="28" fill="#0000ff"/>
<rect x="1484" y="847" width="1" height="33" fill="#0000ff"/>
<rect x="1489" y="851" width="1" height="29" fill="#0000ff"/>
<rect x="1494" y="849" width="1" height="31" fill="#0000ff"/>
<rect x="1499" y="851" width="1" height="29" fill="#0000ff"/>
<rect x="1504" y="852" width="1" height="28" fill="#0000ff"/>
<rect x="1508" y="858" width="1" height="22" fill="#0000ff"/>
<rect x="1513" y="837" width="1" height="43" fill="#0000ff"/>
<rect x="1518" y="854" width="1" height="26" fill="#0000ff"/>
<rect x="1523" y="849" width="1" height="31" fill="#0000ff"/>
<rect x="1528" y="851" width="1" height="29" fill="#0000ff"/>
<rect x="1533" y="852" width="1" height="28" fill="#0000ff"/>
<rect x="1538" y="866" width="1" height="14" fill="#0000ff"/>
<rect x="1543" y="846" width="1" height="34" fill="#0000ff"/>
<rect x="1548" y="856" width="1" height="24" fill="#0000ff"/>
<rect x="1553" y="840" width="1" height="40" fill="#0000ff"/>
<rect x="1558" y="842" width="1" height="38" fill="#0000ff"/>
<rect x="1563" y="849" width="1" height="31" fill="#0000ff"/>
<rect x="1568" y="853" width="1" height="27" fill="#0000ff"/>
<rect x="1573" y="856" width="1" height="24" fill="#0000ff"/>
<rect x="1578" y="829" width="1" height="51" fill="#0000ff"/>
<rect x="1582" y="793" width="1" height="87" fill="#0000ff"/>
<rect x="1587" y="824" width="1" height="56" fill="#0000ff"/>
<rect x="1592" y="839" width="1" height="41" fill="#0000ff"/>
<rect x="1597" y="856" width="1" height="24" fill="#0000ff"/>
<rect x="1602" y="847" width="1" height="33" fill="#0000ff"/>
<rect x="1607" y="834" width="1" height="46" fill="#0000ff"/>
<rect x="1612" y="839" width="1" height="41" fill="#0000ff"/>
<rect x="1617" y="750" width="1" height="130" fill="#0000ff"/>
<rect x="1622" y="830" width="1" height="50" fill="#0000ff"/>
<rect x="1626" y="815" width="1" height="65" fill="#0000ff"/>
<rect x="1631" y="840" width="1" height="40" fill="#0000ff"/>
<rect x="1636" y="835" width="1" height="45" fill="#0000ff"/>
<rect x="1641" y="846" width="1" height="34" fill="#0000ff"/>
<rect x="1646" y="839" width="1" height="41" fill="#0000ff"/>
<rect x="1650" y="848" width="1" height="32" fill="#0000ff"/>
<rect x="1655" y="834" width="1" height="46" fill="#0000ff"/>
<rect x="1660" y="824" width="1" height="56" fill="#0000ff"/>
<rect x="1665" y="828" width="1" height="52" fill="#0000ff"/>
<rect x="1670" y="857" width="1" height="23" fill="#0000ff"/>
<rect x="1675" y="841" width="1" height="39" fill="#0000ff"/>
<rect x="1680" y="854" width="1" height="26" fill="#0000ff"/>
<rect x="1685" y="861" width="1" height="19" fill="#0000ff"/>
<rect x="1690" y="854" width="1" height="26" fill="#0000ff"/>
<rect x="1695" y="839" width="1" height="41" fill="#0000ff"/>
<rect x="1699" y="841" width="1" height="39" fill="#0000ff"/>
<rect x="1704" y="840" width="1" height="40" fill="#0000ff"/>
<rect x="1709" y="828" width="1" height="52" fill="#0000ff"/>
<rect x="1714" y="837" width="1" height="43" fill="#0000ff"/>
<rect x="1719" y="852" width="1" height="28" fill="#0000ff"/>
<rect x="1724" y="857" width="1" height="23" fill="#0000ff"/>
<rect x="1729" y="828" width="1" height="52" fill="#0000ff"/>
<rect x="1734" y="844" width="1" height="36" fill="#0000ff"/>
<rect x="1739" y="853" width="1" height="27" fill="#0000ff"/>
<rect x="1744" y="819" width="1" height="61" fill="#0000ff"/>
<rect x="1749" y="847" width="1" height="33" fill="#0000ff"/>
<rect x="1754" y="849" width="1" height="31" fill="#0000ff"/>
<rect x="1759" y="845" width="1" height="35" fill="#0000ff"/>
<rect x="1764" y="847" width="1" height="33" fill="#0000ff"/>
<rect x="1768" y="842" width="1" height="38" fill="#0000ff"/>
<rect x="1773" y="830" width="1" height="50" fill="#0000ff"/>
<rect x="1778" y="847" width="1" height="33" fill="#0000ff"/>
<rect x="1783" y="854" width="1" height="26" fill="#0000ff"/>
<rect x="1788" y="859" width="1" height="21" fill="#0000ff"/>
<rect x="1793" y="842" width="1" height="38" fill="#0000ff"/>
<rect x="1798" y="854" width="1" height="26" fill="#0000ff"/>
</g>
<polyline points="35.5,748.5 38.5,734.8 43.5,777.2 48.5,779.7 53.5,752.3 57.5,727.3 62.5,726.1 67.5,716.1 72.5,734.3 77.5,731.1 81.5,725.6 86.5,739.3 91.5,720.3 96.5,754.8 101.5,794.2 106.5,791.7 111.5,751.0 116.5,721.8 121.5,761.0 126.5,754.8 130.5,759.2 135.5,733.6 140.5,721.1 145.5,799.6 150.5,815.8 155.5,830.8 160.5,849.5 165.5,814.6 170.5,782.2 175.5,772.2 180.5,763.5 185.5,782.2 190.5,791.7 195.5,818.3 200.5,824.6 204.5,825.1 209.5,798.4 214.5,785.2 219.5,803.4 224.5,742.3 229.5,724.3 234.5,757.2 239.5,771.0 244.5,757.2 249.5,729.8 253.5,735.3 258.5,738.5 263.5,721.8 268.5,716.1 273.5,777.2 278.5,783.4 283.5,777.2 288.5,749.8 293.5,747.3 298.5,814.6 303.5,845.0 308.5,798.4 313.5,778.4 318.5,758.5 322.5,792.2 327.5,807.1 332.5,829.6 337.5,830.8 342.5,810.9 347.5,784.7 351.5,794.7 356.5,759.7 361.5,746.8 366.5,753.0 371.5,720.3 376.5,717.3 381.5,738.5 386.5,772.7 391.5,771.7 395.5,774.2 400.5,756.0 405.5,770.2 410.5,751.0 415.5,714.9 420.5,705.4 425.5,710.4 430.5,828.3 435.5,838.3 440.5,840.8 444.5,841.5 449.5,849.0 454.5,848.3 459.5,849.5 464.5,853.3 469.5,793.4 474.5,769.7 479.5,772.2 484.5,827.1 489.5,790.9 494.5,752.8 499.5,757.2 504.5,761.0 509.5,764.2 514.5,755.2 519.5,787.2 524.5,803.4 529.5,827.1 533.5,783.4 538.5,735.3 543.5,775.2 548.5,750.3 553.5,755.2 558.5,759.7 563.5,748.5 567.5,801.6 572.5,799.6 577.5,749.8 582.5,757.7 587.5,727.3 592.5,717.3 597.5,712.9 602.5,731.1 607.5,717.3 612.5,747.3 616.5,742.8 621.5,761.7 626.5,737.3 631.5,757.7 636.5,735.3 640.5,764.2 645.5,737.3 650.5,788.4 655.5,739.8 660.5,714.9 665.5,698.6 670.5,693.7 675.5,683.7 680.5,691.2 685.5,716.1 690.5,733.6 695.5,757.2 700.5,752.8 705.5,735.3 710.5,746.0 714.5,722.8 719.5,732.3 724.5,777.7 729.5,768.5 734.5,783.4 739.5,744.8 744.5,743.5 749.5,722.3 754.5,711.9 759.5,706.1 763.5,696.1 768.5,723.6 773.5,812.1 778.5,820.8 783.5,773.5 788.5,767.7 793.5,766.0 798.5,750.3 803.5,775.2 808.5,763.5 812.5,783.4 817.5,788.4 822.5,766.0 827.5,753.5 832.5,748.5 837.5,737.3 842.5,727.3 847.5,759.7 852.5,737.3 857.5,692.4 861.5,691.9 866.5,684.4 871.5,722.3 876.5,707.4 881.5,713.6 886.5,696.9 891.5,691.2 896.5,687.9 901.5,685.4 906.5,679.2 910.5,675.4 915.5,710.4 920.5,740.3 925.5,737.3 930.5,721.8 935.5,716.1 940.5,693.7 945.5,687.4 950.5,732.3 955.5,751.0 959.5,805.9 964.5,793.4 969.5,788.4 974.5,749.3 979.5,752.3 984.5,717.3 989.5,689.9 994.5,677.9 999.5,675.0 1004.5,673.7 1008.5,722.3 1013.5,716.8 1018.5,708.6 1023.5,697.4 1028.5,689.9 1033.5,683.7 1038.5,702.9 1043.5,679.9 1048.5,706.9 1053.5,699.4 1058.5,694.9 1063.5,753.5 1068.5,757.2 1073.5,747.8 1078.5,747.3 1082.5,741.0 1087.5,707.9 1092.5,721.1 1097.5,712.4 1102.5,707.9 1107.5,732.3 1112.5,773.5 1117.5,797.1 1122.5,784.7 1127.5,767.2 1132.5,758.5 1137.5,792.2 1142.5,798.4 1146.5,761.0 1150.5,794.7 1155.5,761.0 1160.5,830.8 1165.5,836.5 1170.5,790.2 1175.5,800.9 1180.5,777.2 1185.5,772.2 1190.5,749.8 1195.5,727.3 1200.5,749.8 1204.5,756.0 1209.5,764.7 1214.5,780.9 1219.5,769.2 1224.5,762.7 1229.5,784.7 1234.5,749.8 1239.5,739.3 1244.5,707.4 1249.5,702.4 1254.5,729.3 1259.5,737.3 1263.5,718.6 1268.5,759.7 1273.5,805.9 1278.5,803.4 1283.5,802.1 1288.5,749.8 1293.5,727.3 1298.5,716.1 1303.5,706.1 1308.5,700.4 1312.5,721.1 1317.5,719.3 1322.5,699.4 1327.5,691.2 1332.5,685.4 1337.5,729.8 1342.5,729.3 1347.5,749.8 1352.5,734.3 1357.5,776.7 1362.5,750.3 1367.5,789.7 1372.5,800.1 1377.5,836.5 1382.5,840.8 1386.5,837.5 1391.5,829.6 1396.5,808.4 1401.5,824.6 1406.5,827.1 1410.5,840.8 1415.5,844.5 1420.5,858.2 1425.5,862.0 1430.5,802.1 1435.5,751.8 1440.5,787.2 1445.5,763.5 1450.5,803.4 1455.5,800.9 1460.5,792.9 1464.5,789.7 1469.5,764.2 1474.5,755.2 1479.5,757.2 1484.5,771.0 1489.5,739.8 1494.5,716.1 1499.5,753.5 1504.5,793.4 1508.5,758.5 1513.5,732.8 1518.5,747.3 1523.5,757.7 1528.5,750.3 1533.5,785.9 1538.5,787.2 1543.5,819.6 1548.5,766.0 1553.5,764.2 1558.5,783.4 1563.5,812.1 1568.5,771.0 1573.5,748.5 1578.5,727.8 1582.5,793.4 1587.5,807.1 1592.5,812.1 1597.5,788.4 1602.5,772.2 1607.5,754.8 1612.5,727.3 1617.5,805.9 1622.5,798.4 1626.5,764.7 1631.5,759.7 1636.5,744.3 1641.5,743.5 1646.5,749.3 1650.5,748.5 1655.5,739.8 1660.5,707.4 1665.5,764.7 1670.5,760.2 1675.5,800.1 1680.5,801.6 1685.5,793.4 1690.5,795.9 1695.5,756.0 1699.5,728.6 1704.5,718.6 1709.5,699.9 1714.5,747.3 1719.5,777.2 1724.5,769.2 1729.5,769.2 1734.5,732.8 1739.5,764.2 1744.5,729.8 1749.5,729.3 1754.5,727.8 1759.5,713.6 1764.5,716.8 1768.5,716.8 1773.5,696.1 1778.5,694.4 1783.5,718.6 1788.5,746.0 1793.5,717.8 1798.5,747.8" fill="none" stroke="#ff0000" stroke-width="1" shape-rendering="crispEdges"/>
<rect x="286.5" y="80.5" width="385" height="145" fill="#e0f8d8" stroke="#000" stroke-width="1"/>
<g font-family="Liberation Sans, sans-serif" font-size="12.6" font-weight="bold" fill="#000">
<text x="288.5" y="92.0" textLength="349.2" lengthAdjust="spacing">Small black candle sui 55,48 per Leonardo che chiude</text>
<text x="288.5" y="108.3" textLength="306.8" lengthAdjust="spacing">subito il gap up di ieri e tocca i 55,14 sui minimi.</text>
<text x="288.5" y="124.6" textLength="377.8" lengthAdjust="spacing">Pericolo solamente sotto i 54 euro sull'aumento dei volumi</text>
<text x="288.5" y="140.9" textLength="380.9" lengthAdjust="spacing">e stop profit sotto i 53 per il nostro buy a cui diamo sempre</text>
<text x="288.5" y="157.2" textLength="360.8" lengthAdjust="spacing">spazio. (Potremo anche usare i 52 ). Siamo in resistenza</text>
<text x="288.5" y="173.5" textLength="370.3" lengthAdjust="spacing">con il titolo che potrà o strappare subito forte sopra i 56,5</text>
<text x="288.5" y="189.8" textLength="355.5" lengthAdjust="spacing">e tirare dritto verso i 59 60 oppure scaricare fin proprio</text>
<text x="288.5" y="206.1" textLength="357.2" lengthAdjust="spacing">l'area 52 per poi riprendere vigore e prendere Target di</text>
<text x="288.5" y="222.4" textLength="135.4" lengthAdjust="spacing">breve periodo sui 70.</text>
</g>
<rect x="1013.5" y="571.5" width="206" height="12" fill="#fff" stroke="#000" stroke-width="1"/>
<text x="1014.8" y="579.8" font-family="Liberation Sans, sans-serif" font-size="8.9" font-weight="bold" textLength="202.4" lengthAdjust="spacing" fill="#000">COPYRIGHT@LABORSADEIPICCOLI.COM</text>
<rect x="808" y="4" width="275" height="8" fill="#fff"/>
<text x="809" y="11" font-family="Liberation Sans, sans-serif" font-size="8.4" fill="#333" textLength="272.8" lengthAdjust="spacing">LEONARDO FINMECC (55.8000, 56.0200, 55.1400, 55.4800, -0.72000)</text>
<g shape-rendering="crispEdges">
<rect x="35" y="0" width="1" height="881" fill="#000"/>
<rect x="1855" y="0" width="1" height="881" fill="#000"/>
<rect x="35" y="880" width="1821" height="1" fill="#000"/>
<rect x="35" y="891" width="1820" height="1" fill="#000"/>
<rect x="30" y="643" width="5" height="1" fill="#000"/>
<rect x="1856" y="643" width="5" height="1" fill="#000"/>
<rect x="33" y="635" width="2" height="1" fill="#000"/>
<rect x="1856" y="635" width="2" height="1" fill="#000"/>
<rect x="30" y="628" width="5" height="1" fill="#000"/>
<rect x="1856" y="628" width="5" height="1" fill="#000"/>
<rect x="33" y="621" width="2" height="1" fill="#000"/>
<rect x="1856" y="621" width="2" height="1" fill="#000"/>
<rect x="30" y="614" width="5" height="1" fill="#000"/>
<rect x="1856" y="614" width="5" height="1" fill="#000"/>
<rect x="33" y="607" width="2" height="1" fill="#000"/>
<rect x="1856" y="607" width="2" height="1" fill="#000"/>
<rect x="30" y="599" width="5" height="1" fill="#000"/>
<rect x="1856" y="599" width="5" height="1" fill="#000"/>
<rect x="33" y="592" width="2" height="1" fill="#000"/>
<rect x="1856" y="592" width="2" height="1" fill="#000"/>
<rect x="30" y="585" width="5" height="1" fill="#000"/>
<rect x="1856" y="585" width="5" height="1" fill="#000"/>
<rect x="33" y="578" width="2" height="1" fill="#000"/>
<rect x="1856" y="578" width="2" height="1" fill="#000"/>
<rect x="30" y="570" width="5" height="1" fill="#000"/>
<rect x="1856" y="570" width="5" height="1" fill="#000"/>
<rect x="33" y="563" width="2" height="1" fill="#000"/>
<rect x="1856" y="563" width="2" height="1" fill="#000"/>
<rect x="30" y="556" width="5" height="1" fill="#000"/>
<rect x="1856" y="556" width="5" height="1" fill="#000"/>
<rect x="33" y="549" width="2" height="1" fill="#000"/>
<rect x="1856" y="549" width="2" height="1" fill="#000"/>
<rect x="30" y="541" width="5" height="1" fill="#000"/>
<rect x="1856" y="541" width="5" height="1" fill="#000"/>
<rect x="33" y="534" width="2" height="1" fill="#000"/>
<rect x="1856" y="534" width="2" height="1" fill="#000"/>
<rect x="30" y="527" width="5" height="1" fill="#000"/>
<rect x="1856" y="527" width="5" height="1" fill="#000"/>
<rect x="33" y="520" width="2" height="1" fill="#000"/>
<rect x="1856" y="520" width="2" height="1" fill="#000"/>
<rect x="30" y="512" width="5" height="1" fill="#000"/>
<rect x="1856" y="512" width="5" height="1" fill="#000"/>
<rect x="33" y="505" width="2" height="1" fill="#000"/>
<rect x="1856" y="505" width="2" height="1" fill="#000"/>
<rect x="30" y="498" width="5" height="1" fill="#000"/>
<rect x="1856" y="498" width="5" height="1" fill="#000"/>
<rect x="33" y="491" width="2" height="1" fill="#000"/>
<rect x="1856" y="491" width="2" height="1" fill="#000"/>
<rect x="30" y="484" width="5" height="1" fill="#000"/>
<rect x="1856" y="484" width="5" height="1" fill="#000"/>
<rect x="33" y="476" width="2" height="1" fill="#000"/>
<rect x="1856" y="476" width="2" height="1" fill="#000"/>
<rect x="30" y="469" width="5" height="1" fill="#000"/>
<rect x="1856" y="469" width="5" height="1" fill="#000"/>
<rect x="33" y="462" width="2" height="1" fill="#000"/>
<rect x="1856" y="462" width="2" height="1" fill="#000"/>
<rect x="30" y="455" width="5" height="1" fill="#000"/>
<rect x="1856" y="455" width="5" height="1" fill="#000"/>
<rect x="33" y="447" width="2" height="1" fill="#000"/>
<rect x="1856" y="447" width="2" height="1" fill="#000"/>
<rect x="30" y="440" width="5" height="1" fill="#000"/>
<rect x="1856" y="440" width="5" height="1" fill="#000"/>
<rect x="33" y="433" width="2" height="1" fill="#000"/>
<rect x="1856" y="433" width="2" height="1" fill="#000"/>
<rect x="30" y="426" width="5" height="1" fill="#000"/>
<rect x="1856" y="426" width="5" height="1" fill="#000"/>
<rect x="33" y="418" width="2" height="1" fill="#000"/>
<rect x="1856" y="418" width="2" height="1" fill="#000"/>
<rect x="30" y="411" width="5" height="1" fill="#000"/>
<rect x="1856" y="411" width="5" height="1" fill="#000"/>
<rect x="33" y="404" width="2" height="1" fill="#000"/>
<rect x="1856" y="404" width="2" height="1" fill="#000"/>
<rect x="30" y="397" width="5" height="1" fill="#000"/>
<rect x="1856" y="397" width="5" height="1" fill="#000"/>
<rect x="33" y="389" width="2" height="1" fill="#000"/>
<rect x="1856" y="389" width="2" height="1" fill="#000"/>
<rect x="30" y="382" width="5" height="1" fill="#000"/>
<rect x="1856" y="382" width="5" height="1" fill="#000"/>
<rect x="33" y="375" width="2" height="1" fill="#000"/>
<rect x="1856" y="375" width="2" height="1" fill="#000"/>
<rect x="30" y="368" width="5" height="1" fill="#000"/>
<rect x="1856" y="368" width="5" height="1" fill="#000"/>
<rect x="33" y="361" width="2" height="1" fill="#000"/>
<rect x="1856" y="361" width="2" height="1" fill="#000"/>
<rect x="30" y="353" width="5" height="1" fill="#000"/>
<rect x="1856" y="353" width="5" height="1" fill="#000"/>
<rect x="33" y="346" width="2" height="1" fill="#000"/>
<rect x="1856" y="346" width="2" height="1" fill="#000"/>
<rect x="30" y="339" width="5" height="1" fill="#000"/>
<rect x="1856" y="339" width="5" height="1" fill="#000"/>
<rect x="33" y="332" width="2" height="1" fill="#000"/>
<rect x="1856" y="332" width="2" height="1" fill="#000"/>
<rect x="30" y="324" width="5" height="1" fill="#000"/>
<rect x="1856" y="324" width="5" height="1" fill="#000"/>
<rect x="33" y="317" width="2" height="1" fill="#000"/>
<rect x="1856" y="317" width="2" height="1" fill="#000"/>
<rect x="30" y="310" width="5" height="1" fill="#000"/>
<rect x="1856" y="310" width="5" height="1" fill="#000"/>
<rect x="33" y="303" width="2" height="1" fill="#000"/>
<rect x="1856" y="303" width="2" height="1" fill="#000"/>
<rect x="30" y="295" width="5" height="1" fill="#000"/>
<rect x="1856" y="295" width="5" height="1" fill="#000"/>
<rect x="33" y="288" width="2" height="1" fill="#000"/>
<rect x="1856" y="288" width="2" height="1" fill="#000"/>
<rect x="30" y="281" width="5" height="1" fill="#000"/>
<rect x="1856" y="281" width="5" height="1" fill="#000"/>
<rect x="33" y="274" width="2" height="1" fill="#000"/>
<rect x="1856" y="274" width="2" height="1" fill="#000"/>
<rect x="30" y="266" width="5" height="1" fill="#000"/>
<rect x="1856" y="266" width="5" height="1" fill="#000"/>
<rect x="33" y="259" width="2" height="1" fill="#000"/>
<rect x="1856" y="259" width="2" height="1" fill="#000"/>
<rect x="30" y="252" width="5" height="1" fill="#000"/>
<rect x="1856" y="252" width="5" height="1" fill="#000"/>
<rect x="33" y="245" width="2" height="1" fill="#000"/>
<rect x="1856" y="245" width="2" height="1" fill="#000"/>
<rect x="30" y="238" width="5" height="1" fill="#000"/>
<rect x="1856" y="238" width="5" height="1" fill="#000"/>
<rect x="33" y="230" width="2" height="1" fill="#000"/>
<rect x="1856" y="230" width="2" height="1" fill="#000"/>
<rect x="30" y="223" width="5" height="1" fill="#000"/>
<rect x="1856" y="223" width="5" height="1" fill="#000"/>
<rect x="33" y="216" width="2" height="1" fill="#000"/>
<rect x="1856" y="216" width="2" height="1" fill="#000"/>
<rect x="30" y="209" width="5" height="1" fill="#000"/>
<rect x="1856" y="209" width="5" height="1" fill="#000"/>
<rect x="33" y="201" width="2" height="1" fill="#000"/>
<rect x="1856" y="201" width="2" height="1" fill="#000"/>
<rect x="30" y="194" width="5" height="1" fill="#000"/>
<rect x="1856" y="194" width="5" height="1" fill="#000"/>
<rect x="33" y="187" width="2" height="1" fill="#000"/>
<rect x="1856" y="187" width="2" height="1" fill="#000"/>
<rect x="30" y="180" width="5" height="1" fill="#000"/>
<rect x="1856" y="180" width="5" height="1" fill="#000"/>
<rect x="33" y="172" width="2" height="1" fill="#000"/>
<rect x="1856" y="172" width="2" height="1" fill="#000"/>
<rect x="30" y="165" width="5" height="1" fill="#000"/>
<rect x="1856" y="165" width="5" height="1" fill="#000"/>
<rect x="33" y="158" width="2" height="1" fill="#000"/>
<rect x="1856" y="158" width="2" height="1" fill="#000"/>
<rect x="30" y="151" width="5" height="1" fill="#000"/>
<rect x="1856" y="151" width="5" height="1" fill="#000"/>
<rect x="33" y="143" width="2" height="1" fill="#000"/>
<rect x="1856" y="143" width="2" height="1" fill="#000"/>
<rect x="30" y="136" width="5" height="1" fill="#000"/>
<rect x="1856" y="136" width="5" height="1" fill="#000"/>
<rect x="33" y="129" width="2" height="1" fill="#000"/>
<rect x="1856" y="129" width="2" height="1" fill="#000"/>
<rect x="30" y="122" width="5" height="1" fill="#000"/>
<rect x="1856" y="122" width="5" height="1" fill="#000"/>
<rect x="33" y="115" width="2" height="1" fill="#000"/>
<rect x="1856" y="115" width="2" height="1" fill="#000"/>
<rect x="30" y="107" width="5" height="1" fill="#000"/>
<rect x="1856" y="107" width="5" height="1" fill="#000"/>
<rect x="33" y="100" width="2" height="1" fill="#000"/>
<rect x="1856" y="100" width="2" height="1" fill="#000"/>
<rect x="30" y="93" width="5" height="1" fill="#000"/>
<rect x="1856" y="93" width="5" height="1" fill="#000"/>
<rect x="33" y="86" width="2" height="1" fill="#000"/>
<rect x="1856" y="86" width="2" height="1" fill="#000"/>
<rect x="30" y="78" width="5" height="1" fill="#000"/>
<rect x="1856" y="78" width="5" height="1" fill="#000"/>
<rect x="33" y="71" width="2" height="1" fill="#000"/>
<rect x="1856" y="71" width="2" height="1" fill="#000"/>
<rect x="30" y="64" width="5" height="1" fill="#000"/>
<rect x="1856" y="64" width="5" height="1" fill="#000"/>
<rect x="33" y="57" width="2" height="1" fill="#000"/>
<rect x="1856" y="57" width="2" height="1" fill="#000"/>
<rect x="30" y="49" width="5" height="1" fill="#000"/>
<rect x="1856" y="49" width="5" height="1" fill="#000"/>
<rect x="33" y="42" width="2" height="1" fill="#000"/>
<rect x="1856" y="42" width="2" height="1" fill="#000"/>
<rect x="30" y="35" width="5" height="1" fill="#000"/>
<rect x="1856" y="35" width="5" height="1" fill="#000"/>
<rect x="33" y="28" width="2" height="1" fill="#000"/>
<rect x="1856" y="28" width="2" height="1" fill="#000"/>
<rect x="30" y="20" width="5" height="1" fill="#000"/>
<rect x="1856" y="20" width="5" height="1" fill="#000"/>
<rect x="33" y="13" width="2" height="1" fill="#000"/>
<rect x="1856" y="13" width="2" height="1" fill="#000"/>
<rect x="30" y="6" width="5" height="1" fill="#000"/>
<rect x="1856" y="6" width="5" height="1" fill="#000"/>
<rect x="33" y="878" width="2" height="1" fill="#000"/>
<rect x="33" y="876" width="2" height="1" fill="#000"/>
<rect x="33" y="874" width="2" height="1" fill="#000"/>
<rect x="30" y="872" width="5" height="1" fill="#000"/>
<rect x="33" y="869" width="2" height="1" fill="#000"/>
<rect x="33" y="867" width="2" height="1" fill="#000"/>
<rect x="33" y="865" width="2" height="1" fill="#000"/>
<rect x="33" y="863" width="2" height="1" fill="#000"/>
<rect x="30" y="861" width="5" height="1" fill="#000"/>
<rect x="33" y="858" width="2" height="1" fill="#000"/>
<rect x="33" y="856" width="2" height="1" fill="#000"/>
<rect x="33" y="854" width="2" height="1" fill="#000"/>
<rect x="33" y="852" width="2" height="1" fill="#000"/>
<rect x="30" y="850" width="5" height="1" fill="#000"/>
<rect x="33" y="847" width="2" height="1" fill="#000"/>
<rect x="33" y="845" width="2" height="1" fill="#000"/>
<rect x="33" y="843" width="2" height="1" fill="#000"/>
<rect x="33" y="841" width="2" height="1" fill="#000"/>
<rect x="30" y="839" width="5" height="1" fill="#000"/>
<rect x="33" y="836" width="2" height="1" fill="#000"/>
<rect x="33" y="834" width="2" height="1" fill="#000"/>
<rect x="33" y="832" width="2" height="1" fill="#000"/>
<rect x="33" y="830" width="2" height="1" fill="#000"/>
<rect x="30" y="828" width="5" height="1" fill="#000"/>
<rect x="33" y="825" width="2" height="1" fill="#000"/>
<rect x="33" y="823" width="2" height="1" fill="#000"/>
<rect x="33" y="821" width="2" height="1" fill="#000"/>
<rect x="33" y="819" width="2" height="1" fill="#000"/>
<rect x="30" y="817" width="5" height="1" fill="#000"/>
<rect x="33" y="814" width="2" height="1" fill="#000"/>
<rect x="33" y="812" width="2" height="1" fill="#000"/>
<rect x="33" y="810" width="2" height="1" fill="#000"/>
<rect x="33" y="808" width="2" height="1" fill="#000"/>
<rect x="30" y="806" width="5" height="1" fill="#000"/>
<rect x="33" y="803" width="2" height="1" fill="#000"/>
<rect x="33" y="801" width="2" height="1" fill="#000"/>
<rect x="33" y="799" width="2" height="1" fill="#000"/>
<rect x="33" y="797" width="2" height="1" fill="#000"/>
<rect x="30" y="795" width="5" height="1" fill="#000"/>
<rect x="33" y="792" width="2" height="1" fill="#000"/>
<rect x="33" y="790" width="2" height="1" fill="#000"/>
<rect x="33" y="788" width="2" height="1" fill="#000"/>
<rect x="33" y="786" width="2" height="1" fill="#000"/>
<rect x="30" y="784" width="5" height="1" fill="#000"/>
<rect x="33" y="781" width="2" height="1" fill="#000"/>
<rect x="33" y="779" width="2" height="1" fill="#000"/>
<rect x="33" y="777" width="2" height="1" fill="#000"/>
<rect x="33" y="775" width="2" height="1" fill="#000"/>
<rect x="30" y="773" width="5" height="1" fill="#000"/>
<rect x="33" y="771" width="2" height="1" fill="#000"/>
<rect x="33" y="768" width="2" height="1" fill="#000"/>
<rect x="33" y="766" width="2" height="1" fill="#000"/>
<rect x="33" y="764" width="2" height="1" fill="#000"/>
<rect x="30" y="762" width="5" height="1" fill="#000"/>
<rect x="33" y="760" width="2" height="1" fill="#000"/>
<rect x="33" y="757" width="2" height="1" fill="#000"/>
<rect x="33" y="755" width="2" height="1" fill="#000"/>
<rect x="33" y="753" width="2" height="1" fill="#000"/>
<rect x="30" y="751" width="5" height="1" fill="#000"/>
<rect x="33" y="749" width="2" height="1" fill="#000"/>
<rect x="33" y="746" width="2" height="1" fill="#000"/>
<rect x="33" y="744" width="2" height="1" fill="#000"/>
<rect x="33" y="742" width="2" height="1" fill="#000"/>
<rect x="30" y="740" width="5" height="1" fill="#000"/>
<rect x="33" y="738" width="2" height="1" fill="#000"/>
<rect x="33" y="735" width="2" height="1" fill="#000"/>
<rect x="33" y="733" width="2" height="1" fill="#000"/>
<rect x="33" y="731" width="2" height="1" fill="#000"/>
<rect x="30" y="729" width="5" height="1" fill="#000"/>
<rect x="33" y="727" width="2" height="1" fill="#000"/>
<rect x="33" y="724" width="2" height="1" fill="#000"/>
<rect x="33" y="722" width="2" height="1" fill="#000"/>
<rect x="33" y="720" width="2" height="1" fill="#000"/>
<rect x="30" y="718" width="5" height="1" fill="#000"/>
<rect x="33" y="716" width="2" height="1" fill="#000"/>
<rect x="33" y="713" width="2" height="1" fill="#000"/>
<rect x="33" y="711" width="2" height="1" fill="#000"/>
<rect x="33" y="709" width="2" height="1" fill="#000"/>
<rect x="30" y="707" width="5" height="1" fill="#000"/>
<rect x="33" y="705" width="2" height="1" fill="#000"/>
<rect x="33" y="702" width="2" height="1" fill="#000"/>
<rect x="33" y="700" width="2" height="1" fill="#000"/>
<rect x="33" y="698" width="2" height="1" fill="#000"/>
<rect x="30" y="696" width="5" height="1" fill="#000"/>
<rect x="33" y="694" width="2" height="1" fill="#000"/>
<rect x="33" y="691" width="2" height="1" fill="#000"/>
<rect x="33" y="689" width="2" height="1" fill="#000"/>
<rect x="33" y="687" width="2" height="1" fill="#000"/>
<rect x="30" y="685" width="5" height="1" fill="#000"/>
<rect x="33" y="683" width="2" height="1" fill="#000"/>
<rect x="33" y="680" width="2" height="1" fill="#000"/>
<rect x="33" y="678" width="2" height="1" fill="#000"/>
<rect x="33" y="676" width="2" height="1" fill="#000"/>
<rect x="30" y="674" width="5" height="1" fill="#000"/>
<rect x="33" y="672" width="2" height="1" fill="#000"/>
<rect x="33" y="669" width="2" height="1" fill="#000"/>
<rect x="33" y="667" width="2" height="1" fill="#000"/>
<rect x="33" y="665" width="2" height="1" fill="#000"/>
<rect x="30" y="663" width="5" height="1" fill="#000"/>
<rect x="33" y="661" width="2" height="1" fill="#000"/>
<rect x="1856" y="875" width="2" height="1" fill="#000"/>
<rect x="1856" y="869" width="5" height="1" fill="#000"/>
<rect x="1856" y="863" width="2" height="1" fill="#000"/>
<rect x="1856" y="857" width="5" height="1" fill="#000"/>
<rect x="1856" y="852" width="2" height="1" fill="#000"/>
<rect x="1856" y="846" width="5" height="1" fill="#000"/>
<rect x="1856" y="840" width="2" height="1" fill="#000"/>
<rect x="1856" y="834" width="5" height="1" fill="#000"/>
<rect x="1856" y="828" width="2" height="1" fill="#000"/>
<rect x="1856" y="823" width="5" height="1" fill="#000"/>
<rect x="1856" y="817" width="2" height="1" fill="#000"/>
<rect x="1856" y="811" width="5" height="1" fill="#000"/>
<rect x="1856" y="805" width="2" height="1" fill="#000"/>
<rect x="1856" y="799" width="5" height="1" fill="#000"/>
<rect x="1856" y="794" width="2" height="1" fill="#000"/>
<rect x="1856" y="788" width="5" height="1" fill="#000"/>
<rect x="1856" y="782" width="2" height="1" fill="#000"/>
<rect x="1856" y="776" width="5" height="1" fill="#000"/>
<rect x="1856" y="770" width="2" height="1" fill="#000"/>
<rect x="1856" y="765" width="5" height="1" fill="#000"/>
<rect x="1856" y="759" width="2" height="1" fill="#000"/>
<rect x="1856" y="753" width="5" height="1" fill="#000"/>
<rect x="1856" y="747" width="2" height="1" fill="#000"/>
<rect x="1856" y="741" width="5" height="1" fill="#000"/>
<rect x="1856" y="736" width="2" height="1" fill="#000"/>
<rect x="1856" y="730" width="5" height="1" fill="#000"/>
<rect x="1856" y="724" width="2" height="1" fill="#000"/>
<rect x="1856" y="718" width="5" height="1" fill="#000"/>
<rect x="1856" y="712" width="2" height="1" fill="#000"/>
<rect x="1856" y="707" width="5" height="1" fill="#000"/>
<rect x="1856" y="701" width="2" height="1" fill="#000"/>
<rect x="1856" y="695" width="5" height="1" fill="#000"/>
<rect x="1856" y="689" width="2" height="1" fill="#000"/>
<rect x="1856" y="683" width="5" height="1" fill="#000"/>
<rect x="1856" y="678" width="2" height="1" fill="#000"/>
<rect x="1856" y="672" width="5" height="1" fill="#000"/>
<rect x="1856" y="666" width="2" height="1" fill="#000"/>
<rect x="1856" y="660" width="5" height="1" fill="#000"/>
</g>
<g font-family="Liberation Sans, sans-serif" font-size="8.5" fill="#111">
<text x="26.5" y="647.2" text-anchor="end">16</text>
<text x="1887.5" y="647.2" text-anchor="end">16</text>
<text x="26.5" y="632.2" text-anchor="end">17</text>
<text x="1887.5" y="632.2" text-anchor="end">17</text>
<text x="26.5" y="618.2" text-anchor="end">18</text>
<text x="1887.5" y="618.2" text-anchor="end">18</text>
<text x="26.5" y="603.2" text-anchor="end">19</text>
<text x="1887.5" y="603.2" text-anchor="end">19</text>
<text x="26.5" y="589.2" text-anchor="end">20</text>
<text x="1887.5" y="589.2" text-anchor="end">20</text>
<text x="26.5" y="574.2" text-anchor="end">21</text>
<text x="1887.5" y="574.2" text-anchor="end">21</text>
<text x="26.5" y="560.2" text-anchor="end">22</text>
<text x="1887.5" y="560.2" text-anchor="end">22</text>
<text x="26.5" y="545.2" text-anchor="end">23</text>
<text x="1887.5" y="545.2" text-anchor="end">23</text>
<text x="26.5" y="531.2" text-anchor="end">24</text>
<text x="1887.5" y="531.2" text-anchor="end">24</text>
<text x="26.5" y="516.2" text-anchor="end">25</text>
<text x="1887.5" y="516.2" text-anchor="end">25</text>
<text x="26.5" y="502.2" text-anchor="end">26</text>
<text x="1887.5" y="502.2" text-anchor="end">26</text>
<text x="26.5" y="488.2" text-anchor="end">27</text>
<text x="1887.5" y="488.2" text-anchor="end">27</text>
<text x="26.5" y="473.2" text-anchor="end">28</text>
<text x="1887.5" y="473.2" text-anchor="end">28</text>
<text x="26.5" y="459.2" text-anchor="end">29</text>
<text x="1887.5" y="459.2" text-anchor="end">29</text>
<text x="26.5" y="444.2" text-anchor="end">30</text>
<text x="1887.5" y="444.2" text-anchor="end">30</text>
<text x="26.5" y="430.2" text-anchor="end">31</text>
<text x="1887.5" y="430.2" text-anchor="end">31</text>
<text x="26.5" y="415.2" text-anchor="end">32</text>
<text x="1887.5" y="415.2" text-anchor="end">32</text>
<text x="26.5" y="401.2" text-anchor="end">33</text>
<text x="1887.5" y="401.2" text-anchor="end">33</text>
<text x="26.5" y="386.2" text-anchor="end">34</text>
<text x="1887.5" y="386.2" text-anchor="end">34</text>
<text x="26.5" y="372.2" text-anchor="end">35</text>
<text x="1887.5" y="372.2" text-anchor="end">35</text>
<text x="26.5" y="357.2" text-anchor="end">36</text>
<text x="1887.5" y="357.2" text-anchor="end">36</text>
<text x="26.5" y="343.2" text-anchor="end">37</text>
<text x="1887.5" y="343.2" text-anchor="end">37</text>
<text x="26.5" y="328.2" text-anchor="end">38</text>
<text x="1887.5" y="328.2" text-anchor="end">38</text>
<text x="26.5" y="314.2" text-anchor="end">39</text>
<text x="1887.5" y="314.2" text-anchor="end">39</text>
<text x="26.5" y="299.2" text-anchor="end">40</text>
<text x="1887.5" y="299.2" text-anchor="end">40</text>
<text x="26.5" y="285.2" text-anchor="end">41</text>
<text x="1887.5" y="285.2" text-anchor="end">41</text>
<text x="26.5" y="270.2" text-anchor="end">42</text>
<text x="1887.5" y="270.2" text-anchor="end">42</text>
<text x="26.5" y="256.2" text-anchor="end">43</text>
<text x="1887.5" y="256.2" text-anchor="end">43</text>
<text x="26.5" y="242.2" text-anchor="end">44</text>
<text x="1887.5" y="242.2" text-anchor="end">44</text>
<text x="26.5" y="227.2" text-anchor="end">45</text>
<text x="1887.5" y="227.2" text-anchor="end">45</text>
<text x="26.5" y="213.2" text-anchor="end">46</text>
<text x="1887.5" y="213.2" text-anchor="end">46</text>
<text x="26.5" y="198.2" text-anchor="end">47</text>
<text x="1887.5" y="198.2" text-anchor="end">47</text>
<text x="26.5" y="184.2" text-anchor="end">48</text>
<text x="1887.5" y="184.2" text-anchor="end">48</text>
<text x="26.5" y="169.2" text-anchor="end">49</text>
<text x="1887.5" y="169.2" text-anchor="end">49</text>
<text x="26.5" y="155.2" text-anchor="end">50</text>
<text x="1887.5" y="155.2" text-anchor="end">50</text>
<text x="26.5" y="140.2" text-anchor="end">51</text>
<text x="1887.5" y="140.2" text-anchor="end">51</text>
<text x="26.5" y="126.2" text-anchor="end">52</text>
<text x="1887.5" y="126.2" text-anchor="end">52</text>
<text x="26.5" y="111.2" text-anchor="end">53</text>
<text x="1887.5" y="111.2" text-anchor="end">53</text>
<text x="26.5" y="97.2" text-anchor="end">54</text>
<text x="1887.5" y="97.2" text-anchor="end">54</text>
<text x="26.5" y="82.2" text-anchor="end">55</text>
<text x="1887.5" y="82.2" text-anchor="end">55</text>
<text x="26.5" y="68.2" text-anchor="end">56</text>
<text x="1887.5" y="68.2" text-anchor="end">56</text>
<text x="26.5" y="53.2" text-anchor="end">57</text>
<text x="1887.5" y="53.2" text-anchor="end">57</text>
<text x="26.5" y="39.2" text-anchor="end">58</text>
<text x="1887.5" y="39.2" text-anchor="end">58</text>
<text x="26.5" y="24.2" text-anchor="end">59</text>
<text x="1887.5" y="24.2" text-anchor="end">59</text>
<text x="26.5" y="10.2" text-anchor="end">60</text>
<text x="1887.5" y="10.2" text-anchor="end">60</text>
<text x="26.5" y="876.2" text-anchor="end">5</text>
<text x="26.5" y="865.2" text-anchor="end">10</text>
<text x="26.5" y="854.2" text-anchor="end">15</text>
<text x="26.5" y="843.2" text-anchor="end">20</text>
<text x="26.5" y="832.2" text-anchor="end">25</text>
<text x="26.5" y="821.2" text-anchor="end">30</text>
<text x="26.5" y="810.2" text-anchor="end">35</text>
<text x="26.5" y="799.2" text-anchor="end">40</text>
<text x="26.5" y="788.2" text-anchor="end">45</text>
<text x="26.5" y="777.2" text-anchor="end">50</text>
<text x="26.5" y="766.2" text-anchor="end">55</text>
<text x="26.5" y="755.2" text-anchor="end">60</text>
<text x="26.5" y="744.2" text-anchor="end">65</text>
<text x="26.5" y="733.2" text-anchor="end">70</text>
<text x="26.5" y="722.2" text-anchor="end">75</text>
<text x="26.5" y="711.2" text-anchor="end">80</text>
<text x="26.5" y="700.2" text-anchor="end">85</text>
<text x="26.5" y="689.2" text-anchor="end">90</text>
<text x="26.5" y="678.2" text-anchor="end">95</text>
<text x="26.5" y="667.2" text-anchor="end">100</text>
<text x="1887.5" y="873.2" text-anchor="end">1000</text>
<text x="1887.5" y="861.2" text-anchor="end">2000</text>
<text x="1887.5" y="850.2" text-anchor="end">3000</text>
<text x="1887.5" y="838.2" text-anchor="end">4000</text>
<text x="1887.5" y="827.2" text-anchor="end">5000</text>
<text x="1887.5" y="815.2" text-anchor="end">6000</text>
<text x="1887.5" y="803.2" text-anchor="end">7000</text>
<text x="1887.5" y="792.2" text-anchor="end">8000</text>
<text x="1887.5" y="780.2" text-anchor="end">9000</text>
<text x="1887.5" y="769.2" text-anchor="end">10000</text>
<text x="1887.5" y="757.2" text-anchor="end">11000</text>
<text x="1887.5" y="745.2" text-anchor="end">12000</text>
<text x="1887.5" y="734.2" text-anchor="end">13000</text>
<text x="1887.5" y="722.2" text-anchor="end">14000</text>
<text x="1887.5" y="711.2" text-anchor="end">15000</text>
<text x="1887.5" y="699.2" text-anchor="end">16000</text>
<text x="1887.5" y="687.2" text-anchor="end">17000</text>
<text x="1887.5" y="676.2" text-anchor="end">18000</text>
<text x="1887.5" y="664.2" text-anchor="end">19000</text>
</g>
<path d="M1857.5 880V872.5H1876.5V880" fill="none" stroke="#000" stroke-width="1"/>
<text x="1859" y="878.5" font-family="Liberation Sans, sans-serif" font-size="6" fill="#333">x1000</text>
<g shape-rendering="crispEdges">
<rect x="43" y="880" width="1" height="11" fill="#000"/>
<rect x="67" y="880" width="1" height="11" fill="#000"/>
<rect x="91" y="880" width="1" height="11" fill="#000"/>
<rect x="116" y="880" width="1" height="22" fill="#000"/>
<rect x="140" y="880" width="1" height="11" fill="#000"/>
<rect x="165" y="880" width="1" height="11" fill="#000"/>
<rect x="190" y="880" width="1" height="11" fill="#000"/>
<rect x="214" y="880" width="1" height="22" fill="#000"/>
<rect x="239" y="880" width="1" height="11" fill="#000"/>
<rect x="263" y="880" width="1" height="11" fill="#000"/>
<rect x="288" y="880" width="1" height="11" fill="#000"/>
<rect x="313" y="880" width="1" height="11" fill="#000"/>
<rect x="327" y="880" width="1" height="22" fill="#000"/>
<rect x="337" y="880" width="1" height="11" fill="#000"/>
<rect x="361" y="880" width="1" height="11" fill="#000"/>
<rect x="381" y="880" width="1" height="11" fill="#000"/>
<rect x="405" y="880" width="1" height="11" fill="#000"/>
<rect x="430" y="880" width="1" height="22" fill="#000"/>
<rect x="454" y="880" width="1" height="11" fill="#000"/>
<rect x="479" y="880" width="1" height="11" fill="#000"/>
<rect x="504" y="880" width="1" height="11" fill="#000"/>
<rect x="529" y="880" width="1" height="11" fill="#000"/>
<rect x="533" y="880" width="1" height="22" fill="#000"/>
<rect x="553" y="880" width="1" height="11" fill="#000"/>
<rect x="577" y="880" width="1" height="11" fill="#000"/>
<rect x="602" y="880" width="1" height="11" fill="#000"/>
<rect x="626" y="880" width="1" height="11" fill="#000"/>
<rect x="645" y="880" width="1" height="22" fill="#000"/>
<rect x="650" y="880" width="1" height="11" fill="#000"/>
<rect x="675" y="880" width="1" height="11" fill="#000"/>
<rect x="700" y="880" width="1" height="11" fill="#000"/>
<rect x="724" y="880" width="1" height="11" fill="#000"/>
<rect x="749" y="880" width="1" height="22" fill="#000"/>
<rect x="773" y="880" width="1" height="11" fill="#000"/>
<rect x="798" y="880" width="1" height="11" fill="#000"/>
<rect x="822" y="880" width="1" height="11" fill="#000"/>
<rect x="832" y="880" width="1" height="11" fill="#000"/>
<rect x="837" y="880" width="1" height="22" fill="#000"/>
<rect x="847" y="880" width="1" height="11" fill="#000"/>
<rect x="871" y="880" width="1" height="11" fill="#000"/>
<rect x="896" y="880" width="1" height="11" fill="#000"/>
<rect x="920" y="880" width="1" height="11" fill="#000"/>
<rect x="945" y="880" width="1" height="22" fill="#000"/>
<rect x="969" y="880" width="1" height="11" fill="#000"/>
<rect x="994" y="880" width="1" height="11" fill="#000"/>
<rect x="1018" y="880" width="1" height="11" fill="#000"/>
<rect x="1043" y="880" width="1" height="22" fill="#000"/>
<rect x="1068" y="880" width="1" height="11" fill="#000"/>
<rect x="1092" y="880" width="1" height="11" fill="#000"/>
<rect x="1117" y="880" width="1" height="11" fill="#000"/>
<rect x="1142" y="880" width="1" height="11" fill="#000"/>
<rect x="1146" y="880" width="1" height="22" fill="#000"/>
<rect x="1165" y="880" width="1" height="11" fill="#000"/>
<rect x="1190" y="880" width="1" height="11" fill="#000"/>
<rect x="1209" y="880" width="1" height="11" fill="#000"/>
<rect x="1229" y="880" width="1" height="11" fill="#000"/>
<rect x="1244" y="880" width="1" height="22" fill="#000"/>
<rect x="1249" y="880" width="1" height="11" fill="#000"/>
<rect x="1273" y="880" width="1" height="11" fill="#000"/>
<rect x="1298" y="880" width="1" height="11" fill="#000"/>
<rect x="1322" y="880" width="1" height="11" fill="#000"/>
<rect x="1347" y="880" width="1" height="22" fill="#000"/>
<rect x="1372" y="880" width="1" height="11" fill="#000"/>
<rect x="1396" y="880" width="1" height="11" fill="#000"/>
<rect x="1420" y="880" width="1" height="11" fill="#000"/>
<rect x="1445" y="880" width="1" height="11" fill="#000"/>
<rect x="1450" y="880" width="1" height="22" fill="#000"/>
<rect x="1469" y="880" width="1" height="11" fill="#000"/>
<rect x="1494" y="880" width="1" height="11" fill="#000"/>
<rect x="1518" y="880" width="1" height="11" fill="#000"/>
<rect x="1543" y="880" width="1" height="11" fill="#000"/>
<rect x="1563" y="880" width="1" height="22" fill="#000"/>
<rect x="1568" y="880" width="1" height="11" fill="#000"/>
<rect x="1592" y="880" width="1" height="11" fill="#000"/>
<rect x="1612" y="880" width="1" height="11" fill="#000"/>
<rect x="1636" y="880" width="1" height="11" fill="#000"/>
<rect x="1660" y="880" width="1" height="22" fill="#000"/>
<rect x="1685" y="880" width="1" height="11" fill="#000"/>
<rect x="1709" y="880" width="1" height="11" fill="#000"/>
<rect x="1734" y="880" width="1" height="11" fill="#000"/>
<rect x="1759" y="880" width="1" height="11" fill="#000"/>
<rect x="1768" y="880" width="1" height="22" fill="#000"/>
<rect x="1783" y="880" width="1" height="11" fill="#000"/>
<rect x="1808" y="880" width="1" height="11" fill="#000"/>
<rect x="1832" y="880" width="1" height="11" fill="#000"/>
</g>
<g font-family="Liberation Sans, sans-serif" font-size="8.5" fill="#111">
<text x="44.5" y="889">13</text>
<text x="68.5" y="889">20</text>
<text x="92.5" y="889">27</text>
<text x="117.5" y="889">3</text>
<text x="117.5" y="900">June</text>
<text x="141.5" y="889">10</text>
<text x="166.5" y="889">17</text>
<text x="191.5" y="889">24</text>
<text x="215.5" y="889">1</text>
<text x="215.5" y="900">July</text>
<text x="240.5" y="889">8</text>
<text x="264.5" y="889">15</text>
<text x="289.5" y="889">22</text>
<text x="314.5" y="889">29</text>
<text x="328.5" y="900">August</text>
<text x="338.5" y="889">5</text>
<text x="362.5" y="889">12</text>
<text x="382.5" y="889">19</text>
<text x="406.5" y="889">26</text>
<text x="431.5" y="889">2</text>
<text x="431.5" y="900">September</text>
<text x="455.5" y="889">9</text>
<text x="480.5" y="889">16</text>
<text x="505.5" y="889">23</text>
<text x="530.5" y="889">30</text>
<text x="534.5" y="900">October</text>
<text x="554.5" y="889">7</text>
<text x="578.5" y="889">14</text>
<text x="603.5" y="889">21</text>
<text x="627.5" y="889">28</text>
<text x="646.5" y="900">November</text>
<text x="651.5" y="889">4</text>
<text x="676.5" y="889">11</text>
<text x="701.5" y="889">18</text>
<text x="725.5" y="889">25</text>
<text x="750.5" y="889">2</text>
<text x="750.5" y="900">December</text>
<text x="774.5" y="889">9</text>
<text x="799.5" y="889">16</text>
<text x="823.5" y="889">23</text>
<text x="838.5" y="900">2025</text>
<text x="848.5" y="889">6</text>
<text x="872.5" y="889">13</text>
<text x="897.5" y="889">20</text>
<text x="921.5" y="889">27</text>
<text x="946.5" y="889">3</text>
<text x="946.5" y="900">February</text>
<text x="970.5" y="889">10</text>
<text x="995.5" y="889">17</text>
<text x="1019.5" y="889">24</text>
<text x="1044.5" y="889">3</text>
<text x="1044.5" y="900">March</text>
<text x="1069.5" y="889">10</text>
<text x="1093.5" y="889">17</text>
<text x="1118.5" y="889">24</text>
<text x="1143.5" y="889">31</text>
<text x="1147.5" y="900">April</text>
<text x="1166.5" y="889">7</text>
<text x="1191.5" y="889">14</text>
<text x="1210.5" y="889">22</text>
<text x="1230.5" y="889">28</text>
<text x="1245.5" y="900">May</text>
<text x="1250.5" y="889">5</text>
<text x="1274.5" y="889">12</text>
<text x="1299.5" y="889">19</text>
<text x="1323.5" y="889">26</text>
<text x="1348.5" y="889">2</text>
<text x="1348.5" y="900">June</text>
<text x="1373.5" y="889">9</text>
<text x="1397.5" y="889">16</text>
<text x="1421.5" y="889">23</text>
<text x="1446.5" y="889">30</text>
<text x="1451.5" y="900">July</text>
<text x="1470.5" y="889">7</text>
<text x="1495.5" y="889">14</text>
<text x="1519.5" y="889">21</text>
<text x="1544.5" y="889">28</text>
<text x="1564.5" y="900">August</text>
<text x="1569.5" y="889">4</text>
<text x="1593.5" y="889">11</text>
<text x="1613.5" y="889">18</text>
<text x="1637.5" y="889">25</text>
<text x="1661.5" y="889">1</text>
<text x="1661.5" y="900">September</text>
<text x="1686.5" y="889">8</text>
<text x="1710.5" y="889">15</text>
<text x="1735.5" y="889">22</text>
<text x="1760.5" y="889">29</text>
<text x="1769.5" y="900">October</text>
<text x="1784.5" y="889">6</text>
<text x="1809.5" y="889">13</text>
<text x="1833.5" y="889">20</text>
</g></svg></body></html>
